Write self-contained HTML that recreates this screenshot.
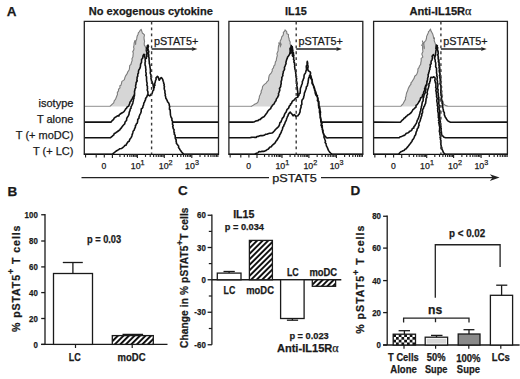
<!DOCTYPE html>
<html><head><meta charset="utf-8"><style>
html,body{margin:0;padding:0;background:#fff;}
svg{display:block;font-family:"Liberation Sans", sans-serif;}
text{stroke:#1a1a1a;stroke-width:0.25px;}
</style></head><body>
<svg width="520" height="379" viewBox="0 0 520 379">
<rect width="520" height="379" fill="#fff"/>
<defs><pattern id="hatch" patternUnits="userSpaceOnUse" width="3.9" height="3.9" patternTransform="rotate(45)"><rect width="3.9" height="3.9" fill="#fff"/><rect x="0" y="0" width="1.95" height="3.9" fill="#111"/></pattern><pattern id="checker" patternUnits="userSpaceOnUse" x="393.2" y="334.2" width="5.5" height="5.5"><rect width="5.5" height="5.5" fill="#fff"/><rect width="2.75" height="2.75" fill="#111"/><rect x="2.75" y="2.75" width="2.75" height="2.75" fill="#111"/></pattern></defs>
<text x="6.80" y="16.20" font-size="13.5" font-weight="bold" fill="#1a1a1a" >A</text>
<path d="M84.30,106.45 L110.00,106.45 L111.50,104.85 L113.70,102.85 L114.32,100.54 L115.50,99.35 L116.41,97.00 L116.89,95.80 L117.50,94.35 L117.29,92.61 L118.50,90.85 L118.51,89.24 L120.00,87.85 L119.81,85.70 L120.88,85.37 L121.50,83.35 L121.90,81.41 L123.50,80.35 L124.40,79.57 L125.02,77.18 L125.60,75.85 L127.31,73.37 L127.50,72.35 L129.07,70.01 L129.50,68.35 L129.68,65.74 L131.00,64.35 L131.29,62.86 L132.20,60.35 L131.96,58.81 L132.96,56.81 L133.00,55.35 L133.28,52.98 L132.70,51.55 L133.60,50.35 L134.02,48.57 L133.57,47.15 L134.00,45.35 L134.08,43.53 L134.30,42.35 L135.00,40.55 L135.77,42.77 L135.60,44.35 L135.49,42.47 L136.20,40.35 L136.69,38.95 L137.10,36.35 L138.12,34.16 L138.40,32.65 L139.30,31.85 L140.25,30.15 L141.20,29.35 L142.00,31.85 L142.50,33.35 L143.40,33.85 L144.47,34.99 L144.00,37.35 L144.17,39.76 L144.60,41.35 L144.24,43.00 L144.26,44.95 L145.20,46.35 L145.82,48.47 L145.60,50.35 L146.55,52.05 L146.30,54.35 L146.79,56.00 L146.78,57.28 L147.37,59.56 L147.00,60.35 L147.13,62.28 L146.63,64.01 L147.74,66.14 L148.18,66.67 L147.65,68.95 L148.00,70.35 L147.44,71.79 L147.87,72.74 L147.89,75.28 L148.21,75.95 L148.83,78.44 L148.53,79.27 L149.48,81.46 L150.11,82.93 L149.45,83.71 L150.00,85.35 L150.27,87.63 L151.73,88.12 L150.98,89.92 L151.57,91.99 L152.64,93.30 L153.00,95.35 L153.04,96.55 L154.46,98.12 L156.22,99.65 L156.36,100.87 L157.45,101.30 L158.00,103.35 L160.31,104.83 L161.93,105.89 L163.00,106.45 L218.50,106.45 Z" fill="#d6d6d6" stroke="none"/>
<path d="M84.30,106.45 L110.00,106.45 M163.00,106.45 L218.50,106.45" fill="none" stroke="#a6a6a6" stroke-width="1.3"/>
<path d="M110.00,106.45 L111.50,104.85 L113.70,102.85 L114.32,100.54 L115.50,99.35 L116.41,97.00 L116.89,95.80 L117.50,94.35 L117.29,92.61 L118.50,90.85 L118.51,89.24 L120.00,87.85 L119.81,85.70 L120.88,85.37 L121.50,83.35 L121.90,81.41 L123.50,80.35 L124.40,79.57 L125.02,77.18 L125.60,75.85 L127.31,73.37 L127.50,72.35 L129.07,70.01 L129.50,68.35 L129.68,65.74 L131.00,64.35 L131.29,62.86 L132.20,60.35 L131.96,58.81 L132.96,56.81 L133.00,55.35 L133.28,52.98 L132.70,51.55 L133.60,50.35 L134.02,48.57 L133.57,47.15 L134.00,45.35 L134.08,43.53 L134.30,42.35 L135.00,40.55 L135.77,42.77 L135.60,44.35 L135.49,42.47 L136.20,40.35 L136.69,38.95 L137.10,36.35 L138.12,34.16 L138.40,32.65 L139.30,31.85 L140.25,30.15 L141.20,29.35 L142.00,31.85 L142.50,33.35 L143.40,33.85 L144.47,34.99 L144.00,37.35 L144.17,39.76 L144.60,41.35 L144.24,43.00 L144.26,44.95 L145.20,46.35 L145.82,48.47 L145.60,50.35 L146.55,52.05 L146.30,54.35 L146.79,56.00 L146.78,57.28 L147.37,59.56 L147.00,60.35 L147.13,62.28 L146.63,64.01 L147.74,66.14 L148.18,66.67 L147.65,68.95 L148.00,70.35 L147.44,71.79 L147.87,72.74 L147.89,75.28 L148.21,75.95 L148.83,78.44 L148.53,79.27 L149.48,81.46 L150.11,82.93 L149.45,83.71 L150.00,85.35 L150.27,87.63 L151.73,88.12 L150.98,89.92 L151.57,91.99 L152.64,93.30 L153.00,95.35 L153.04,96.55 L154.46,98.12 L156.22,99.65 L156.36,100.87 L157.45,101.30 L158.00,103.35 L160.31,104.83 L161.93,105.89 L163.00,106.45" fill="none" stroke="#7c7c7c" stroke-width="1.1" stroke-linejoin="round"/>
<path d="M84.30,122.10 L111.10,122.10 L111.87,121.08 L112.48,120.35 L113.70,119.30 L114.17,118.04 L115.17,117.26 L116.30,116.70 L117.46,115.90 L118.90,115.90 L119.28,114.72 L120.21,114.04 L121.40,113.30 L122.27,112.79 L124.00,111.60 L124.97,110.15 L125.51,109.20 L126.60,108.20 L127.34,106.69 L128.65,106.31 L129.20,104.70 L129.74,103.55 L129.96,102.08 L130.90,101.30 L131.33,99.95 L132.33,98.73 L132.60,97.90 L133.02,97.01 L134.30,95.30 L134.78,93.82 L135.24,92.54 L135.68,92.23 L136.43,90.81 L136.34,89.35 L137.00,88.30 L137.03,87.43 L137.70,86.33 L137.85,84.72 L138.61,84.29 L138.98,83.02 L139.29,81.85 L139.09,80.54 L139.54,78.99 L140.00,78.30 L139.85,76.99 L140.34,76.25 L141.24,74.92 L141.50,74.29 L141.80,72.62 L141.42,71.39 L141.67,70.26 L142.33,69.77 L142.50,68.30 L143.06,67.11 L143.14,66.24 L142.88,64.94 L143.87,63.89 L143.98,62.45 L144.00,61.30 L144.16,60.46 L144.90,59.10 L146.40,58.30 L146.35,57.37 L147.02,55.81 L146.61,55.10 L147.00,53.20 L146.90,52.30 L146.61,50.74 L147.36,50.08 L146.73,48.84 L147.10,47.30 L147.40,45.50 L147.70,46.80 L148.00,45.10 L148.51,46.54 L148.02,47.74 L147.89,48.56 L148.30,50.30 L148.78,51.63 L148.44,53.09 L148.42,54.23 L148.83,54.84 L148.60,56.30 L149.10,58.30 L149.01,59.31 L149.13,60.78 L149.27,61.83 L149.29,63.47 L149.62,64.26 L149.96,65.86 L149.94,67.08 L150.14,67.93 L150.29,68.67 L150.40,70.30 L150.47,71.20 L150.20,72.94 L150.48,73.84 L151.10,75.10 L150.87,76.25 L151.20,77.68 L150.92,78.67 L151.40,79.80 L151.50,80.74 L152.30,82.09 L152.44,83.46 L153.09,84.32 L153.14,85.52 L153.38,86.83 L153.70,87.80 L154.18,88.87 L154.73,90.28 L155.45,91.26 L156.20,91.75 L156.38,93.41 L157.16,93.72 L157.03,95.04 L157.52,95.90 L158.04,97.33 L159.21,98.57 L159.16,99.45 L160.00,100.30 L160.64,100.98 L161.34,102.72 L161.25,103.71 L161.91,104.29 L162.94,105.60 L162.70,106.24 L163.51,107.16 L163.73,108.14 L164.70,108.87 L165.00,110.30 L165.76,111.25 L165.99,112.15 L167.25,113.31 L167.47,114.74 L168.83,115.72 L168.93,116.09 L170.00,117.30 L170.21,118.75 L171.04,119.37 L171.81,121.27 L172.50,122.10 L218.50,122.10 Z" fill="#fff" stroke="none"/>
<path d="M84.30,122.10 L111.10,122.10 L111.87,121.08 L112.48,120.35 L113.70,119.30 L114.17,118.04 L115.17,117.26 L116.30,116.70 L117.46,115.90 L118.90,115.90 L119.28,114.72 L120.21,114.04 L121.40,113.30 L122.27,112.79 L124.00,111.60 L124.97,110.15 L125.51,109.20 L126.60,108.20 L127.34,106.69 L128.65,106.31 L129.20,104.70 L129.74,103.55 L129.96,102.08 L130.90,101.30 L131.33,99.95 L132.33,98.73 L132.60,97.90 L133.02,97.01 L134.30,95.30 L134.78,93.82 L135.24,92.54 L135.68,92.23 L136.43,90.81 L136.34,89.35 L137.00,88.30 L137.03,87.43 L137.70,86.33 L137.85,84.72 L138.61,84.29 L138.98,83.02 L139.29,81.85 L139.09,80.54 L139.54,78.99 L140.00,78.30 L139.85,76.99 L140.34,76.25 L141.24,74.92 L141.50,74.29 L141.80,72.62 L141.42,71.39 L141.67,70.26 L142.33,69.77 L142.50,68.30 L143.06,67.11 L143.14,66.24 L142.88,64.94 L143.87,63.89 L143.98,62.45 L144.00,61.30 L144.16,60.46 L144.90,59.10 L146.40,58.30 L146.35,57.37 L147.02,55.81 L146.61,55.10 L147.00,53.20 L146.90,52.30 L146.61,50.74 L147.36,50.08 L146.73,48.84 L147.10,47.30 L147.40,45.50 L147.70,46.80 L148.00,45.10 L148.51,46.54 L148.02,47.74 L147.89,48.56 L148.30,50.30 L148.78,51.63 L148.44,53.09 L148.42,54.23 L148.83,54.84 L148.60,56.30 L149.10,58.30 L149.01,59.31 L149.13,60.78 L149.27,61.83 L149.29,63.47 L149.62,64.26 L149.96,65.86 L149.94,67.08 L150.14,67.93 L150.29,68.67 L150.40,70.30 L150.47,71.20 L150.20,72.94 L150.48,73.84 L151.10,75.10 L150.87,76.25 L151.20,77.68 L150.92,78.67 L151.40,79.80 L151.50,80.74 L152.30,82.09 L152.44,83.46 L153.09,84.32 L153.14,85.52 L153.38,86.83 L153.70,87.80 L154.18,88.87 L154.73,90.28 L155.45,91.26 L156.20,91.75 L156.38,93.41 L157.16,93.72 L157.03,95.04 L157.52,95.90 L158.04,97.33 L159.21,98.57 L159.16,99.45 L160.00,100.30 L160.64,100.98 L161.34,102.72 L161.25,103.71 L161.91,104.29 L162.94,105.60 L162.70,106.24 L163.51,107.16 L163.73,108.14 L164.70,108.87 L165.00,110.30 L165.76,111.25 L165.99,112.15 L167.25,113.31 L167.47,114.74 L168.83,115.72 L168.93,116.09 L170.00,117.30 L170.21,118.75 L171.04,119.37 L171.81,121.27 L172.50,122.10 L218.50,122.10" fill="none" stroke="#111" stroke-width="1.6" stroke-linejoin="round"/>
<path d="M84.30,137.80 L110.30,137.80 L111.45,136.85 L111.72,136.71 L112.90,135.60 L113.81,134.93 L114.23,133.50 L115.62,132.98 L116.30,132.20 L117.22,131.74 L118.90,130.50 L119.85,129.90 L120.19,129.09 L121.40,127.90 L121.88,127.09 L123.09,125.49 L124.00,124.50 L124.70,123.81 L125.09,122.02 L125.97,121.04 L126.60,120.20 L126.67,118.82 L127.05,117.78 L127.71,116.80 L128.30,115.90 L128.96,114.41 L129.15,113.01 L129.44,111.57 L130.00,110.70 L130.20,108.99 L131.06,108.20 L131.00,106.85 L131.70,105.60 L132.52,103.95 L132.84,102.94 L132.97,102.00 L133.40,100.40 L133.52,99.19 L134.01,98.39 L133.92,97.04 L134.47,95.64 L134.50,94.30 L134.59,93.02 L134.45,91.68 L134.65,91.08 L134.99,89.42 L135.01,88.88 L135.90,87.59 L135.55,86.06 L135.74,85.11 L136.10,84.00 L136.03,82.85 L136.37,82.22 L137.25,80.74 L136.83,80.02 L137.13,78.37 L137.09,77.29 L137.76,76.30 L137.75,75.20 L137.81,73.89 L138.50,73.00 L138.42,71.81 L138.66,70.37 L139.18,69.46 L139.72,68.63 L140.15,67.64 L140.41,66.74 L140.50,65.30 L140.68,63.89 L141.49,62.48 L141.53,61.68 L141.60,60.30 L141.54,59.50 L142.65,58.21 L142.86,57.28 L143.00,55.90 L143.80,54.30 L144.60,54.70 L144.40,55.84 L144.84,57.24 L145.23,58.35 L145.16,59.53 L145.20,60.30 L145.42,61.63 L145.08,62.20 L145.05,63.65 L145.08,65.24 L145.55,66.21 L145.67,67.42 L145.61,67.97 L145.95,69.80 L145.74,70.77 L145.80,71.90 L146.06,72.71 L146.24,74.08 L145.76,75.29 L146.46,76.43 L146.59,78.33 L146.48,78.99 L146.60,80.30 L146.71,81.72 L147.11,82.91 L147.13,83.67 L146.82,85.08 L147.49,86.37 L147.40,87.80 L147.56,88.55 L147.20,89.97 L147.85,91.54 L147.96,92.36 L147.91,93.71 L147.97,94.58 L148.45,95.84 L148.20,97.30 L148.95,98.78 L148.40,99.43 L149.44,100.97 L149.42,101.43 L149.52,103.12 L149.84,103.87 L150.09,104.90 L151.14,105.64 L151.34,107.06 L151.71,108.32 L151.44,109.57 L152.00,110.30 L152.42,110.94 L152.41,112.44 L153.24,113.34 L153.39,114.45 L153.98,115.96 L154.12,116.95 L155.31,117.46 L155.81,119.06 L156.22,119.75 L156.17,120.92 L157.16,122.17 L157.02,123.09 L157.37,123.82 L158.00,125.30 L158.42,126.49 L159.36,127.47 L160.11,127.76 L161.12,128.58 L161.77,130.15 L163.01,130.91 L163.56,131.89 L164.62,132.46 L165.00,133.30 L166.20,133.54 L167.21,134.54 L168.23,135.36 L168.81,135.47 L170.38,136.18 L170.97,137.02 L172.00,137.80 L218.50,137.80 Z" fill="#fff" stroke="none"/>
<path d="M84.30,137.80 L110.30,137.80 L111.45,136.85 L111.72,136.71 L112.90,135.60 L113.81,134.93 L114.23,133.50 L115.62,132.98 L116.30,132.20 L117.22,131.74 L118.90,130.50 L119.85,129.90 L120.19,129.09 L121.40,127.90 L121.88,127.09 L123.09,125.49 L124.00,124.50 L124.70,123.81 L125.09,122.02 L125.97,121.04 L126.60,120.20 L126.67,118.82 L127.05,117.78 L127.71,116.80 L128.30,115.90 L128.96,114.41 L129.15,113.01 L129.44,111.57 L130.00,110.70 L130.20,108.99 L131.06,108.20 L131.00,106.85 L131.70,105.60 L132.52,103.95 L132.84,102.94 L132.97,102.00 L133.40,100.40 L133.52,99.19 L134.01,98.39 L133.92,97.04 L134.47,95.64 L134.50,94.30 L134.59,93.02 L134.45,91.68 L134.65,91.08 L134.99,89.42 L135.01,88.88 L135.90,87.59 L135.55,86.06 L135.74,85.11 L136.10,84.00 L136.03,82.85 L136.37,82.22 L137.25,80.74 L136.83,80.02 L137.13,78.37 L137.09,77.29 L137.76,76.30 L137.75,75.20 L137.81,73.89 L138.50,73.00 L138.42,71.81 L138.66,70.37 L139.18,69.46 L139.72,68.63 L140.15,67.64 L140.41,66.74 L140.50,65.30 L140.68,63.89 L141.49,62.48 L141.53,61.68 L141.60,60.30 L141.54,59.50 L142.65,58.21 L142.86,57.28 L143.00,55.90 L143.80,54.30 L144.60,54.70 L144.40,55.84 L144.84,57.24 L145.23,58.35 L145.16,59.53 L145.20,60.30 L145.42,61.63 L145.08,62.20 L145.05,63.65 L145.08,65.24 L145.55,66.21 L145.67,67.42 L145.61,67.97 L145.95,69.80 L145.74,70.77 L145.80,71.90 L146.06,72.71 L146.24,74.08 L145.76,75.29 L146.46,76.43 L146.59,78.33 L146.48,78.99 L146.60,80.30 L146.71,81.72 L147.11,82.91 L147.13,83.67 L146.82,85.08 L147.49,86.37 L147.40,87.80 L147.56,88.55 L147.20,89.97 L147.85,91.54 L147.96,92.36 L147.91,93.71 L147.97,94.58 L148.45,95.84 L148.20,97.30 L148.95,98.78 L148.40,99.43 L149.44,100.97 L149.42,101.43 L149.52,103.12 L149.84,103.87 L150.09,104.90 L151.14,105.64 L151.34,107.06 L151.71,108.32 L151.44,109.57 L152.00,110.30 L152.42,110.94 L152.41,112.44 L153.24,113.34 L153.39,114.45 L153.98,115.96 L154.12,116.95 L155.31,117.46 L155.81,119.06 L156.22,119.75 L156.17,120.92 L157.16,122.17 L157.02,123.09 L157.37,123.82 L158.00,125.30 L158.42,126.49 L159.36,127.47 L160.11,127.76 L161.12,128.58 L161.77,130.15 L163.01,130.91 L163.56,131.89 L164.62,132.46 L165.00,133.30 L166.20,133.54 L167.21,134.54 L168.23,135.36 L168.81,135.47 L170.38,136.18 L170.97,137.02 L172.00,137.80 L218.50,137.80" fill="none" stroke="#111" stroke-width="1.6" stroke-linejoin="round"/>
<path d="M84.30,154.30 L112.00,154.30 L112.95,153.62 L114.70,152.28 L115.40,151.60 L116.71,150.72 L117.78,150.10 L118.90,149.50 L119.85,148.70 L121.40,148.50 L122.44,147.87 L124.00,146.50 L124.86,145.38 L126.10,145.21 L126.60,143.90 L127.42,142.71 L128.06,141.80 L129.20,141.30 L129.62,139.80 L130.10,138.82 L130.90,137.90 L131.39,137.17 L131.97,135.67 L132.10,134.70 L132.60,133.60 L132.91,132.38 L133.06,131.25 L134.30,130.04 L134.30,129.30 L134.73,128.34 L135.48,126.89 L135.37,125.85 L136.00,125.00 L136.33,123.88 L137.26,123.16 L137.61,121.34 L137.70,120.70 L137.73,119.61 L138.96,118.13 L139.13,116.43 L139.50,115.60 L139.83,114.68 L140.64,113.32 L141.20,111.47 L141.20,110.40 L141.27,109.01 L142.07,108.41 L142.87,107.37 L142.90,106.10 L143.46,105.29 L143.71,104.05 L143.76,103.20 L144.60,101.90 L144.78,101.20 L145.58,99.57 L145.54,98.45 L146.30,97.60 L146.97,96.48 L147.40,95.00 L148.20,95.06 L149.70,95.90 L150.52,95.17 L151.20,94.05 L152.10,93.50 L152.59,91.86 L152.72,91.06 L153.71,90.03 L153.70,88.70 L154.31,87.49 L153.99,86.11 L154.91,85.33 L154.59,83.54 L155.03,82.94 L155.30,81.60 L155.55,80.28 L156.10,79.78 L156.03,77.88 L156.60,77.20 L157.40,76.40 L158.40,77.40 L158.65,78.73 L159.20,80.20 L160.00,79.00 L161.20,77.60 L161.90,78.20 L162.71,79.43 L163.20,81.20 L163.67,82.52 L163.60,83.13 L164.22,84.33 L164.00,85.60 L164.49,86.53 L164.15,88.18 L164.42,89.53 L164.80,90.30 L164.96,91.28 L164.87,92.75 L165.43,94.48 L165.12,95.24 L165.60,96.60 L165.87,98.36 L166.34,98.86 L167.20,100.60 L167.55,101.70 L168.70,103.00 L169.26,104.52 L169.31,105.80 L169.69,106.37 L169.50,107.70 L169.42,109.29 L170.12,109.68 L170.25,111.19 L170.30,112.50 L170.39,113.52 L170.40,114.40 L170.70,115.89 L171.10,117.20 L171.91,118.46 L171.90,120.40 L172.62,121.54 L172.50,123.20 L172.57,124.62 L173.19,125.40 L172.69,126.56 L173.19,128.09 L173.22,128.72 L174.06,129.55 L173.90,131.10 L174.04,132.48 L174.57,132.89 L174.13,134.01 L175.14,135.28 L175.21,136.96 L175.20,137.70 L175.39,138.60 L176.28,140.01 L175.99,141.19 L176.37,141.90 L176.42,143.43 L177.20,144.30 L178.09,145.48 L178.64,145.99 L178.52,147.46 L179.69,148.95 L179.80,149.60 L180.56,150.48 L181.47,151.79 L182.40,152.90 L183.70,154.30 L218.50,154.30 Z" fill="#fff" stroke="none"/>
<path d="M84.30,154.30 L112.00,154.30 L112.95,153.62 L114.70,152.28 L115.40,151.60 L116.71,150.72 L117.78,150.10 L118.90,149.50 L119.85,148.70 L121.40,148.50 L122.44,147.87 L124.00,146.50 L124.86,145.38 L126.10,145.21 L126.60,143.90 L127.42,142.71 L128.06,141.80 L129.20,141.30 L129.62,139.80 L130.10,138.82 L130.90,137.90 L131.39,137.17 L131.97,135.67 L132.10,134.70 L132.60,133.60 L132.91,132.38 L133.06,131.25 L134.30,130.04 L134.30,129.30 L134.73,128.34 L135.48,126.89 L135.37,125.85 L136.00,125.00 L136.33,123.88 L137.26,123.16 L137.61,121.34 L137.70,120.70 L137.73,119.61 L138.96,118.13 L139.13,116.43 L139.50,115.60 L139.83,114.68 L140.64,113.32 L141.20,111.47 L141.20,110.40 L141.27,109.01 L142.07,108.41 L142.87,107.37 L142.90,106.10 L143.46,105.29 L143.71,104.05 L143.76,103.20 L144.60,101.90 L144.78,101.20 L145.58,99.57 L145.54,98.45 L146.30,97.60 L146.97,96.48 L147.40,95.00 L148.20,95.06 L149.70,95.90 L150.52,95.17 L151.20,94.05 L152.10,93.50 L152.59,91.86 L152.72,91.06 L153.71,90.03 L153.70,88.70 L154.31,87.49 L153.99,86.11 L154.91,85.33 L154.59,83.54 L155.03,82.94 L155.30,81.60 L155.55,80.28 L156.10,79.78 L156.03,77.88 L156.60,77.20 L157.40,76.40 L158.40,77.40 L158.65,78.73 L159.20,80.20 L160.00,79.00 L161.20,77.60 L161.90,78.20 L162.71,79.43 L163.20,81.20 L163.67,82.52 L163.60,83.13 L164.22,84.33 L164.00,85.60 L164.49,86.53 L164.15,88.18 L164.42,89.53 L164.80,90.30 L164.96,91.28 L164.87,92.75 L165.43,94.48 L165.12,95.24 L165.60,96.60 L165.87,98.36 L166.34,98.86 L167.20,100.60 L167.55,101.70 L168.70,103.00 L169.26,104.52 L169.31,105.80 L169.69,106.37 L169.50,107.70 L169.42,109.29 L170.12,109.68 L170.25,111.19 L170.30,112.50 L170.39,113.52 L170.40,114.40 L170.70,115.89 L171.10,117.20 L171.91,118.46 L171.90,120.40 L172.62,121.54 L172.50,123.20 L172.57,124.62 L173.19,125.40 L172.69,126.56 L173.19,128.09 L173.22,128.72 L174.06,129.55 L173.90,131.10 L174.04,132.48 L174.57,132.89 L174.13,134.01 L175.14,135.28 L175.21,136.96 L175.20,137.70 L175.39,138.60 L176.28,140.01 L175.99,141.19 L176.37,141.90 L176.42,143.43 L177.20,144.30 L178.09,145.48 L178.64,145.99 L178.52,147.46 L179.69,148.95 L179.80,149.60 L180.56,150.48 L181.47,151.79 L182.40,152.90 L183.70,154.30 L218.50,154.30" fill="none" stroke="#111" stroke-width="1.6" stroke-linejoin="round"/>
<path d="M84.30,154.30 L84.30,21.40 L218.50,21.40 L218.50,154.30" fill="none" stroke="#222" stroke-width="1.3"/>
<line x1="83.70" y1="154.30" x2="219.10" y2="154.30" stroke="#111" stroke-width="1.3" />
<line x1="151.60" y1="21.60" x2="151.60" y2="154.30" stroke="#3a3a3a" stroke-width="1.4" stroke-dasharray="2.8 3.15"/>
<text x="153.90" y="45.20" font-size="10.8" textLength="44.40" lengthAdjust="spacingAndGlyphs" fill="#1a1a1a" >pSTAT5+</text>
<line x1="151.60" y1="49.00" x2="193.60" y2="49.00" stroke="#222" stroke-width="1.3" />
<path d="M197.40,49 L191.60,46.9 L192.80,49 L191.60,51.1 Z" fill="#222"/>
<line x1="85.55" y1="154.30" x2="85.55" y2="157.50" stroke="#222" stroke-width="1.15" />
<line x1="96.20" y1="154.30" x2="96.20" y2="157.50" stroke="#222" stroke-width="1.15" />
<line x1="104.30" y1="154.30" x2="104.30" y2="157.50" stroke="#222" stroke-width="1.15" />
<line x1="112.40" y1="154.30" x2="112.40" y2="157.90" stroke="#222" stroke-width="1.15" />
<line x1="119.93" y1="154.30" x2="119.93" y2="156.90" stroke="#222" stroke-width="1.15" />
<line x1="124.33" y1="154.30" x2="124.33" y2="156.90" stroke="#222" stroke-width="1.15" />
<line x1="127.45" y1="154.30" x2="127.45" y2="156.90" stroke="#222" stroke-width="1.15" />
<line x1="129.87" y1="154.30" x2="129.87" y2="156.90" stroke="#222" stroke-width="1.15" />
<line x1="131.85" y1="154.30" x2="131.85" y2="156.90" stroke="#222" stroke-width="1.15" />
<line x1="133.53" y1="154.30" x2="133.53" y2="156.90" stroke="#222" stroke-width="1.15" />
<line x1="134.98" y1="154.30" x2="134.98" y2="156.90" stroke="#222" stroke-width="1.15" />
<line x1="136.26" y1="154.30" x2="136.26" y2="156.90" stroke="#222" stroke-width="1.15" />
<line x1="137.40" y1="154.30" x2="137.40" y2="157.90" stroke="#222" stroke-width="1.15" />
<line x1="145.50" y1="154.30" x2="145.50" y2="156.90" stroke="#222" stroke-width="1.15" />
<line x1="150.23" y1="154.30" x2="150.23" y2="156.90" stroke="#222" stroke-width="1.15" />
<line x1="153.60" y1="154.30" x2="153.60" y2="156.90" stroke="#222" stroke-width="1.15" />
<line x1="156.20" y1="154.30" x2="156.20" y2="156.90" stroke="#222" stroke-width="1.15" />
<line x1="158.33" y1="154.30" x2="158.33" y2="156.90" stroke="#222" stroke-width="1.15" />
<line x1="160.13" y1="154.30" x2="160.13" y2="156.90" stroke="#222" stroke-width="1.15" />
<line x1="161.69" y1="154.30" x2="161.69" y2="156.90" stroke="#222" stroke-width="1.15" />
<line x1="163.07" y1="154.30" x2="163.07" y2="156.90" stroke="#222" stroke-width="1.15" />
<line x1="164.30" y1="154.30" x2="164.30" y2="157.90" stroke="#222" stroke-width="1.15" />
<line x1="172.58" y1="154.30" x2="172.58" y2="156.90" stroke="#222" stroke-width="1.15" />
<line x1="177.42" y1="154.30" x2="177.42" y2="156.90" stroke="#222" stroke-width="1.15" />
<line x1="180.86" y1="154.30" x2="180.86" y2="156.90" stroke="#222" stroke-width="1.15" />
<line x1="183.52" y1="154.30" x2="183.52" y2="156.90" stroke="#222" stroke-width="1.15" />
<line x1="185.70" y1="154.30" x2="185.70" y2="156.90" stroke="#222" stroke-width="1.15" />
<line x1="187.54" y1="154.30" x2="187.54" y2="156.90" stroke="#222" stroke-width="1.15" />
<line x1="189.13" y1="154.30" x2="189.13" y2="156.90" stroke="#222" stroke-width="1.15" />
<line x1="190.54" y1="154.30" x2="190.54" y2="156.90" stroke="#222" stroke-width="1.15" />
<line x1="191.80" y1="154.30" x2="191.80" y2="157.90" stroke="#222" stroke-width="1.15" />
<line x1="200.02" y1="154.30" x2="200.02" y2="156.90" stroke="#222" stroke-width="1.15" />
<line x1="204.83" y1="154.30" x2="204.83" y2="156.90" stroke="#222" stroke-width="1.15" />
<line x1="208.24" y1="154.30" x2="208.24" y2="156.90" stroke="#222" stroke-width="1.15" />
<line x1="210.88" y1="154.30" x2="210.88" y2="156.90" stroke="#222" stroke-width="1.15" />
<line x1="213.04" y1="154.30" x2="213.04" y2="156.90" stroke="#222" stroke-width="1.15" />
<line x1="214.87" y1="154.30" x2="214.87" y2="156.90" stroke="#222" stroke-width="1.15" />
<line x1="216.45" y1="154.30" x2="216.45" y2="156.90" stroke="#222" stroke-width="1.15" />
<line x1="217.85" y1="154.30" x2="217.85" y2="156.90" stroke="#222" stroke-width="1.15" />
<text x="104.00" y="169.20" font-size="8.6" text-anchor="middle" fill="#1a1a1a" >0</text>
<text x="130.80" y="169.3" font-size="8.8" fill="#1a1a1a">10<tspan dy="-3.9" font-size="7.2">1</tspan></text>
<text x="158.80" y="169.3" font-size="8.8" fill="#1a1a1a">10<tspan dy="-3.9" font-size="7.2">2</tspan></text>
<text x="185.10" y="169.3" font-size="8.8" fill="#1a1a1a">10<tspan dy="-3.9" font-size="7.2">3</tspan></text>
<text x="150.80" y="15.40" font-size="11" font-weight="bold" text-anchor="middle" textLength="124.00" lengthAdjust="spacingAndGlyphs" fill="#1a1a1a" >No exogenous cytokine</text>
<path d="M228.90,106.45 L251.00,106.55 L253.00,105.35 L255.03,104.09 L255.70,103.85 L257.12,103.00 L258.08,101.82 L258.50,100.15 L259.27,98.01 L259.41,96.20 L260.30,94.55 L261.38,92.04 L261.08,91.29 L262.20,89.05 L262.53,86.79 L262.92,86.00 L264.40,84.35 L266.10,83.15 L266.69,82.19 L268.45,80.46 L268.70,77.95 L269.19,75.58 L269.79,74.55 L271.30,72.85 L272.29,71.04 L272.17,69.27 L273.44,67.95 L273.90,65.95 L274.92,64.78 L275.41,61.89 L276.32,60.45 L276.40,59.05 L276.81,57.28 L277.38,55.44 L276.90,53.94 L277.05,53.40 L278.03,50.94 L278.20,49.65 L278.18,48.71 L278.51,45.77 L279.14,44.72 L278.80,42.75 L280.34,44.16 L280.30,46.85 L280.44,45.86 L281.20,44.51 L280.10,42.02 L280.41,40.35 L281.20,39.35 L281.80,36.75 L283.06,35.45 L283.49,33.68 L283.30,32.45 L284.74,31.02 L285.00,29.75 L286.70,31.65 L286.88,33.79 L288.55,34.42 L288.40,36.75 L289.15,38.68 L289.15,40.01 L290.20,41.95 L290.03,43.63 L291.00,46.25 L290.83,47.98 L291.69,48.91 L290.88,50.67 L292.17,52.01 L291.81,53.61 L292.81,55.73 L291.86,56.58 L292.61,58.86 L293.00,60.35 L293.41,61.26 L292.84,63.79 L293.42,64.69 L293.44,67.33 L293.64,68.27 L293.90,69.59 L294.90,72.08 L294.28,72.37 L295.05,73.94 L294.08,76.62 L294.94,78.05 L295.10,79.71 L295.37,80.12 L294.85,82.31 L296.04,84.44 L296.00,85.35 L295.74,87.05 L296.59,88.36 L296.63,89.50 L297.63,92.03 L297.37,92.83 L298.89,95.10 L298.32,95.25 L299.91,98.11 L299.57,98.14 L300.00,100.35 L301.68,101.41 L302.65,103.02 L303.52,103.53 L304.46,104.87 L305.00,106.55 L362.80,106.45 Z" fill="#d6d6d6" stroke="none"/>
<path d="M228.90,106.45 L251.00,106.45 M305.00,106.45 L362.80,106.45" fill="none" stroke="#a6a6a6" stroke-width="1.3"/>
<path d="M251.00,106.55 L253.00,105.35 L255.03,104.09 L255.70,103.85 L257.12,103.00 L258.08,101.82 L258.50,100.15 L259.27,98.01 L259.41,96.20 L260.30,94.55 L261.38,92.04 L261.08,91.29 L262.20,89.05 L262.53,86.79 L262.92,86.00 L264.40,84.35 L266.10,83.15 L266.69,82.19 L268.45,80.46 L268.70,77.95 L269.19,75.58 L269.79,74.55 L271.30,72.85 L272.29,71.04 L272.17,69.27 L273.44,67.95 L273.90,65.95 L274.92,64.78 L275.41,61.89 L276.32,60.45 L276.40,59.05 L276.81,57.28 L277.38,55.44 L276.90,53.94 L277.05,53.40 L278.03,50.94 L278.20,49.65 L278.18,48.71 L278.51,45.77 L279.14,44.72 L278.80,42.75 L280.34,44.16 L280.30,46.85 L280.44,45.86 L281.20,44.51 L280.10,42.02 L280.41,40.35 L281.20,39.35 L281.80,36.75 L283.06,35.45 L283.49,33.68 L283.30,32.45 L284.74,31.02 L285.00,29.75 L286.70,31.65 L286.88,33.79 L288.55,34.42 L288.40,36.75 L289.15,38.68 L289.15,40.01 L290.20,41.95 L290.03,43.63 L291.00,46.25 L290.83,47.98 L291.69,48.91 L290.88,50.67 L292.17,52.01 L291.81,53.61 L292.81,55.73 L291.86,56.58 L292.61,58.86 L293.00,60.35 L293.41,61.26 L292.84,63.79 L293.42,64.69 L293.44,67.33 L293.64,68.27 L293.90,69.59 L294.90,72.08 L294.28,72.37 L295.05,73.94 L294.08,76.62 L294.94,78.05 L295.10,79.71 L295.37,80.12 L294.85,82.31 L296.04,84.44 L296.00,85.35 L295.74,87.05 L296.59,88.36 L296.63,89.50 L297.63,92.03 L297.37,92.83 L298.89,95.10 L298.32,95.25 L299.91,98.11 L299.57,98.14 L300.00,100.35 L301.68,101.41 L302.65,103.02 L303.52,103.53 L304.46,104.87 L305.00,106.55" fill="none" stroke="#7c7c7c" stroke-width="1.1" stroke-linejoin="round"/>
<path d="M228.90,122.10 L252.90,122.10 L253.93,122.07 L255.44,121.13 L256.01,120.99 L257.40,120.64 L258.50,120.40 L259.08,119.56 L260.54,119.52 L260.84,118.61 L262.40,117.52 L263.39,116.97 L264.00,116.70 L264.79,115.82 L265.51,114.68 L266.03,114.00 L266.73,113.14 L267.45,112.02 L267.77,111.26 L268.89,109.99 L269.60,109.30 L270.60,108.64 L271.10,107.18 L271.88,106.20 L272.33,105.57 L273.07,104.66 L274.20,103.80 L274.74,102.33 L275.38,101.31 L276.00,100.88 L276.32,99.17 L276.85,98.40 L277.78,97.13 L277.90,96.40 L278.50,95.74 L278.67,94.46 L278.46,93.50 L279.01,92.37 L279.67,90.55 L279.84,90.13 L279.47,88.50 L280.37,87.21 L280.78,86.21 L280.70,85.30 L281.21,83.73 L281.15,83.18 L281.11,81.34 L281.60,80.30 L281.89,78.89 L281.75,77.51 L282.15,76.94 L282.90,75.66 L282.72,74.31 L283.30,72.80 L283.24,71.68 L284.00,70.38 L284.50,69.42 L284.53,68.57 L284.39,67.52 L285.15,65.84 L285.59,64.58 L286.05,63.71 L285.90,62.50 L286.17,61.44 L286.65,59.61 L287.32,58.19 L287.50,57.30 L288.69,55.78 L289.30,54.70 L289.78,53.94 L290.00,52.30 L290.20,51.32 L290.08,49.60 L289.96,48.61 L290.50,47.80 L290.68,48.84 L290.67,50.36 L290.41,50.85 L290.96,51.77 L290.90,53.30 L290.52,52.06 L290.69,50.94 L290.87,50.03 L291.27,48.58 L291.37,47.71 L291.00,47.01 L291.40,45.50 L291.29,46.38 L291.29,48.02 L292.11,49.35 L291.90,50.30 L291.95,48.92 L291.73,48.10 L292.30,46.80 L292.42,47.85 L292.56,49.12 L292.88,50.57 L292.32,51.91 L292.20,52.77 L292.59,53.69 L292.34,55.36 L292.80,56.30 L292.53,55.01 L293.53,53.31 L293.30,52.30 L293.13,53.50 L293.51,54.63 L293.88,55.31 L293.53,56.52 L293.80,57.80 L293.53,59.43 L294.33,60.55 L293.78,61.95 L294.58,62.89 L294.50,64.20 L294.87,65.34 L294.55,66.21 L294.71,67.33 L294.95,69.16 L295.43,70.43 L295.40,71.30 L295.72,72.19 L295.72,73.44 L296.06,74.62 L295.72,75.83 L296.49,76.55 L296.20,77.90 L296.66,78.66 L296.21,80.06 L296.76,81.90 L296.88,82.54 L297.11,83.75 L296.65,85.47 L297.00,86.30 L297.25,87.60 L297.42,88.98 L297.37,89.97 L297.71,91.11 L297.61,92.11 L297.86,92.86 L297.67,94.27 L297.69,95.65 L298.20,96.40 L298.11,97.09 L298.30,99.01 L298.74,99.42 L298.68,100.44 L299.50,102.08 L299.73,103.29 L299.38,104.27 L300.00,105.30 L300.50,106.59 L301.54,107.65 L301.48,108.63 L302.87,109.70 L302.77,110.04 L303.40,110.88 L304.69,112.58 L305.00,113.30 L306.00,114.34 L306.87,114.61 L307.26,115.19 L308.73,116.03 L309.21,116.98 L309.82,117.58 L310.93,118.74 L312.00,119.30 L312.98,119.49 L314.62,120.00 L315.62,120.46 L315.98,120.62 L317.44,121.30 L318.46,121.58 L319.73,121.49 L320.80,122.10 L362.80,122.10 Z" fill="#fff" stroke="none"/>
<path d="M228.90,122.10 L252.90,122.10 L253.93,122.07 L255.44,121.13 L256.01,120.99 L257.40,120.64 L258.50,120.40 L259.08,119.56 L260.54,119.52 L260.84,118.61 L262.40,117.52 L263.39,116.97 L264.00,116.70 L264.79,115.82 L265.51,114.68 L266.03,114.00 L266.73,113.14 L267.45,112.02 L267.77,111.26 L268.89,109.99 L269.60,109.30 L270.60,108.64 L271.10,107.18 L271.88,106.20 L272.33,105.57 L273.07,104.66 L274.20,103.80 L274.74,102.33 L275.38,101.31 L276.00,100.88 L276.32,99.17 L276.85,98.40 L277.78,97.13 L277.90,96.40 L278.50,95.74 L278.67,94.46 L278.46,93.50 L279.01,92.37 L279.67,90.55 L279.84,90.13 L279.47,88.50 L280.37,87.21 L280.78,86.21 L280.70,85.30 L281.21,83.73 L281.15,83.18 L281.11,81.34 L281.60,80.30 L281.89,78.89 L281.75,77.51 L282.15,76.94 L282.90,75.66 L282.72,74.31 L283.30,72.80 L283.24,71.68 L284.00,70.38 L284.50,69.42 L284.53,68.57 L284.39,67.52 L285.15,65.84 L285.59,64.58 L286.05,63.71 L285.90,62.50 L286.17,61.44 L286.65,59.61 L287.32,58.19 L287.50,57.30 L288.69,55.78 L289.30,54.70 L289.78,53.94 L290.00,52.30 L290.20,51.32 L290.08,49.60 L289.96,48.61 L290.50,47.80 L290.68,48.84 L290.67,50.36 L290.41,50.85 L290.96,51.77 L290.90,53.30 L290.52,52.06 L290.69,50.94 L290.87,50.03 L291.27,48.58 L291.37,47.71 L291.00,47.01 L291.40,45.50 L291.29,46.38 L291.29,48.02 L292.11,49.35 L291.90,50.30 L291.95,48.92 L291.73,48.10 L292.30,46.80 L292.42,47.85 L292.56,49.12 L292.88,50.57 L292.32,51.91 L292.20,52.77 L292.59,53.69 L292.34,55.36 L292.80,56.30 L292.53,55.01 L293.53,53.31 L293.30,52.30 L293.13,53.50 L293.51,54.63 L293.88,55.31 L293.53,56.52 L293.80,57.80 L293.53,59.43 L294.33,60.55 L293.78,61.95 L294.58,62.89 L294.50,64.20 L294.87,65.34 L294.55,66.21 L294.71,67.33 L294.95,69.16 L295.43,70.43 L295.40,71.30 L295.72,72.19 L295.72,73.44 L296.06,74.62 L295.72,75.83 L296.49,76.55 L296.20,77.90 L296.66,78.66 L296.21,80.06 L296.76,81.90 L296.88,82.54 L297.11,83.75 L296.65,85.47 L297.00,86.30 L297.25,87.60 L297.42,88.98 L297.37,89.97 L297.71,91.11 L297.61,92.11 L297.86,92.86 L297.67,94.27 L297.69,95.65 L298.20,96.40 L298.11,97.09 L298.30,99.01 L298.74,99.42 L298.68,100.44 L299.50,102.08 L299.73,103.29 L299.38,104.27 L300.00,105.30 L300.50,106.59 L301.54,107.65 L301.48,108.63 L302.87,109.70 L302.77,110.04 L303.40,110.88 L304.69,112.58 L305.00,113.30 L306.00,114.34 L306.87,114.61 L307.26,115.19 L308.73,116.03 L309.21,116.98 L309.82,117.58 L310.93,118.74 L312.00,119.30 L312.98,119.49 L314.62,120.00 L315.62,120.46 L315.98,120.62 L317.44,121.30 L318.46,121.58 L319.73,121.49 L320.80,122.10 L362.80,122.10" fill="none" stroke="#111" stroke-width="1.6" stroke-linejoin="round"/>
<path d="M228.90,137.80 L250.00,137.80 L251.55,137.33 L252.74,137.30 L253.23,137.23 L254.90,137.40 L256.36,137.41 L256.90,136.54 L258.57,136.39 L259.80,135.70 L260.74,135.50 L262.11,135.60 L263.26,135.50 L264.70,134.90 L265.73,134.24 L267.33,134.10 L268.02,133.82 L269.60,133.30 L270.32,133.29 L271.98,133.02 L272.90,132.50 L273.82,131.52 L274.50,130.80 L275.26,129.71 L276.20,128.80 L277.75,127.38 L278.60,126.70 L279.45,124.97 L279.60,124.10 L279.91,122.74 L281.11,121.80 L281.22,121.00 L281.90,119.50 L282.24,118.44 L283.08,117.68 L283.85,116.56 L284.20,115.40 L284.66,114.04 L285.09,113.31 L286.15,112.02 L286.60,110.60 L287.10,109.38 L288.45,108.34 L289.00,107.10 L289.24,106.11 L290.51,104.94 L290.46,104.04 L291.50,103.57 L291.90,102.30 L292.39,101.19 L293.27,100.54 L294.30,99.90 L295.12,98.83 L295.75,98.09 L296.70,97.60 L297.89,96.97 L297.87,96.35 L299.00,95.10 L298.97,93.92 L300.09,93.22 L300.18,91.82 L300.30,90.80 L300.27,89.82 L300.43,88.34 L300.92,87.08 L301.17,86.66 L301.50,85.30 L302.05,84.05 L302.37,82.77 L302.30,81.64 L303.00,80.30 L303.21,79.32 L303.97,77.84 L303.97,76.92 L304.13,75.26 L304.50,74.30 L305.20,73.51 L305.75,72.21 L306.00,70.90 L306.48,69.86 L306.45,68.46 L306.32,67.42 L306.29,66.03 L307.07,65.09 L307.09,63.48 L307.07,62.46 L307.30,61.30 L307.55,62.42 L307.73,64.09 L307.43,65.04 L308.10,66.00 L307.98,67.73 L307.71,68.54 L307.96,69.95 L308.40,70.90 L310.00,71.70 L310.66,73.02 L310.17,74.37 L310.80,75.60 L311.16,77.06 L311.45,78.25 L312.06,79.40 L312.00,81.04 L312.40,81.90 L312.54,83.27 L313.10,84.54 L313.26,85.94 L314.00,86.70 L314.27,87.48 L314.60,88.96 L314.76,90.15 L315.60,91.40 L315.90,92.65 L316.20,93.32 L316.45,94.82 L317.46,95.69 L317.18,97.00 L317.80,97.80 L317.95,98.72 L317.97,100.40 L318.83,101.45 L318.80,102.50 L318.93,103.67 L318.87,105.15 L319.14,105.97 L319.72,107.24 L319.56,107.89 L319.79,108.85 L319.90,110.30 L320.34,111.35 L320.50,112.45 L320.22,113.61 L320.41,114.73 L320.17,116.39 L320.57,117.14 L320.73,118.53 L320.99,119.85 L321.20,120.90 L321.52,121.86 L321.94,123.39 L321.33,124.46 L322.27,125.51 L321.75,126.64 L322.37,126.99 L321.99,128.92 L322.60,129.60 L323.02,130.48 L322.80,131.48 L323.20,133.15 L323.58,133.69 L324.00,135.10 L325.46,136.56 L326.20,137.50 L327.30,138.00 L329.00,137.80 L362.80,137.80 Z" fill="#fff" stroke="none"/>
<path d="M228.90,137.80 L250.00,137.80 L251.55,137.33 L252.74,137.30 L253.23,137.23 L254.90,137.40 L256.36,137.41 L256.90,136.54 L258.57,136.39 L259.80,135.70 L260.74,135.50 L262.11,135.60 L263.26,135.50 L264.70,134.90 L265.73,134.24 L267.33,134.10 L268.02,133.82 L269.60,133.30 L270.32,133.29 L271.98,133.02 L272.90,132.50 L273.82,131.52 L274.50,130.80 L275.26,129.71 L276.20,128.80 L277.75,127.38 L278.60,126.70 L279.45,124.97 L279.60,124.10 L279.91,122.74 L281.11,121.80 L281.22,121.00 L281.90,119.50 L282.24,118.44 L283.08,117.68 L283.85,116.56 L284.20,115.40 L284.66,114.04 L285.09,113.31 L286.15,112.02 L286.60,110.60 L287.10,109.38 L288.45,108.34 L289.00,107.10 L289.24,106.11 L290.51,104.94 L290.46,104.04 L291.50,103.57 L291.90,102.30 L292.39,101.19 L293.27,100.54 L294.30,99.90 L295.12,98.83 L295.75,98.09 L296.70,97.60 L297.89,96.97 L297.87,96.35 L299.00,95.10 L298.97,93.92 L300.09,93.22 L300.18,91.82 L300.30,90.80 L300.27,89.82 L300.43,88.34 L300.92,87.08 L301.17,86.66 L301.50,85.30 L302.05,84.05 L302.37,82.77 L302.30,81.64 L303.00,80.30 L303.21,79.32 L303.97,77.84 L303.97,76.92 L304.13,75.26 L304.50,74.30 L305.20,73.51 L305.75,72.21 L306.00,70.90 L306.48,69.86 L306.45,68.46 L306.32,67.42 L306.29,66.03 L307.07,65.09 L307.09,63.48 L307.07,62.46 L307.30,61.30 L307.55,62.42 L307.73,64.09 L307.43,65.04 L308.10,66.00 L307.98,67.73 L307.71,68.54 L307.96,69.95 L308.40,70.90 L310.00,71.70 L310.66,73.02 L310.17,74.37 L310.80,75.60 L311.16,77.06 L311.45,78.25 L312.06,79.40 L312.00,81.04 L312.40,81.90 L312.54,83.27 L313.10,84.54 L313.26,85.94 L314.00,86.70 L314.27,87.48 L314.60,88.96 L314.76,90.15 L315.60,91.40 L315.90,92.65 L316.20,93.32 L316.45,94.82 L317.46,95.69 L317.18,97.00 L317.80,97.80 L317.95,98.72 L317.97,100.40 L318.83,101.45 L318.80,102.50 L318.93,103.67 L318.87,105.15 L319.14,105.97 L319.72,107.24 L319.56,107.89 L319.79,108.85 L319.90,110.30 L320.34,111.35 L320.50,112.45 L320.22,113.61 L320.41,114.73 L320.17,116.39 L320.57,117.14 L320.73,118.53 L320.99,119.85 L321.20,120.90 L321.52,121.86 L321.94,123.39 L321.33,124.46 L322.27,125.51 L321.75,126.64 L322.37,126.99 L321.99,128.92 L322.60,129.60 L323.02,130.48 L322.80,131.48 L323.20,133.15 L323.58,133.69 L324.00,135.10 L325.46,136.56 L326.20,137.50 L327.30,138.00 L329.00,137.80 L362.80,137.80" fill="none" stroke="#111" stroke-width="1.6" stroke-linejoin="round"/>
<path d="M228.90,154.30 L254.60,154.30 L256.00,153.50 L257.10,153.12 L258.15,152.59 L259.00,151.60 L260.76,151.75 L262.00,151.30 L263.08,151.37 L264.70,151.10 L265.98,150.52 L267.20,149.50 L268.17,149.14 L269.30,147.89 L270.04,147.08 L271.30,146.70 L272.09,145.48 L272.87,144.73 L273.69,144.22 L274.50,143.40 L275.37,142.63 L275.72,141.51 L277.00,140.10 L277.77,138.76 L278.60,137.30 L279.32,136.51 L279.62,135.03 L280.30,134.00 L281.31,132.17 L281.50,131.10 L282.22,129.82 L282.70,128.30 L282.68,127.30 L283.66,126.49 L283.90,125.00 L284.30,124.60 L284.61,123.85 L285.23,122.23 L286.04,120.64 L286.34,119.99 L286.60,118.70 L286.93,117.97 L287.44,116.56 L288.06,115.76 L288.26,114.40 L289.00,113.40 L290.20,112.10 L290.98,113.10 L291.90,114.00 L293.10,115.80 L294.30,114.50 L295.19,115.26 L295.50,116.40 L296.99,116.01 L297.90,115.80 L298.50,114.59 L299.11,114.23 L299.70,112.80 L300.11,111.86 L300.10,110.24 L300.34,109.28 L300.80,108.00 L301.17,107.01 L300.89,105.70 L301.90,104.29 L301.80,103.00 L301.76,101.49 L302.09,100.05 L302.90,99.00 L303.60,97.84 L303.68,96.74 L304.23,95.32 L304.29,94.07 L304.50,92.70 L305.08,91.74 L305.46,90.34 L305.85,89.51 L306.34,88.14 L306.21,87.03 L306.90,86.40 L307.45,85.49 L307.64,83.72 L308.09,82.82 L308.16,81.06 L308.40,80.00 L308.50,78.80 L308.79,77.69 L309.35,77.02 L309.50,75.50 L310.40,76.00 L310.32,77.26 L310.63,78.06 L311.64,79.67 L312.06,80.75 L312.00,82.00 L311.96,83.15 L312.88,84.89 L313.63,85.73 L313.60,87.00 L313.92,87.79 L314.53,89.04 L314.49,90.01 L315.20,91.60 L315.12,92.83 L315.59,94.15 L315.93,95.13 L316.33,95.43 L317.23,96.70 L317.40,98.00 L317.80,98.81 L317.38,100.43 L318.16,101.59 L318.37,101.99 L318.47,103.64 L318.51,104.93 L318.52,106.05 L319.12,106.29 L318.68,107.95 L319.59,108.53 L319.50,110.00 L319.47,111.38 L319.49,112.68 L319.92,113.14 L319.96,114.78 L320.17,116.05 L320.05,117.33 L320.39,118.37 L320.77,119.35 L320.80,120.60 L320.87,121.95 L321.55,123.03 L321.39,123.68 L321.10,125.38 L321.86,126.33 L321.70,127.22 L322.45,128.51 L322.20,129.30 L322.59,130.23 L322.74,131.85 L322.99,132.77 L323.49,134.06 L323.70,134.80 L324.28,135.80 L323.85,136.99 L324.53,138.48 L324.90,139.60 L325.48,141.21 L325.09,142.42 L326.08,143.71 L326.16,144.44 L326.40,145.90 L327.27,147.35 L327.67,148.62 L327.91,149.05 L328.60,150.60 L329.65,152.07 L330.60,153.00 L332.20,154.30 L362.80,154.30 Z" fill="#fff" stroke="none"/>
<path d="M228.90,154.30 L254.60,154.30 L256.00,153.50 L257.10,153.12 L258.15,152.59 L259.00,151.60 L260.76,151.75 L262.00,151.30 L263.08,151.37 L264.70,151.10 L265.98,150.52 L267.20,149.50 L268.17,149.14 L269.30,147.89 L270.04,147.08 L271.30,146.70 L272.09,145.48 L272.87,144.73 L273.69,144.22 L274.50,143.40 L275.37,142.63 L275.72,141.51 L277.00,140.10 L277.77,138.76 L278.60,137.30 L279.32,136.51 L279.62,135.03 L280.30,134.00 L281.31,132.17 L281.50,131.10 L282.22,129.82 L282.70,128.30 L282.68,127.30 L283.66,126.49 L283.90,125.00 L284.30,124.60 L284.61,123.85 L285.23,122.23 L286.04,120.64 L286.34,119.99 L286.60,118.70 L286.93,117.97 L287.44,116.56 L288.06,115.76 L288.26,114.40 L289.00,113.40 L290.20,112.10 L290.98,113.10 L291.90,114.00 L293.10,115.80 L294.30,114.50 L295.19,115.26 L295.50,116.40 L296.99,116.01 L297.90,115.80 L298.50,114.59 L299.11,114.23 L299.70,112.80 L300.11,111.86 L300.10,110.24 L300.34,109.28 L300.80,108.00 L301.17,107.01 L300.89,105.70 L301.90,104.29 L301.80,103.00 L301.76,101.49 L302.09,100.05 L302.90,99.00 L303.60,97.84 L303.68,96.74 L304.23,95.32 L304.29,94.07 L304.50,92.70 L305.08,91.74 L305.46,90.34 L305.85,89.51 L306.34,88.14 L306.21,87.03 L306.90,86.40 L307.45,85.49 L307.64,83.72 L308.09,82.82 L308.16,81.06 L308.40,80.00 L308.50,78.80 L308.79,77.69 L309.35,77.02 L309.50,75.50 L310.40,76.00 L310.32,77.26 L310.63,78.06 L311.64,79.67 L312.06,80.75 L312.00,82.00 L311.96,83.15 L312.88,84.89 L313.63,85.73 L313.60,87.00 L313.92,87.79 L314.53,89.04 L314.49,90.01 L315.20,91.60 L315.12,92.83 L315.59,94.15 L315.93,95.13 L316.33,95.43 L317.23,96.70 L317.40,98.00 L317.80,98.81 L317.38,100.43 L318.16,101.59 L318.37,101.99 L318.47,103.64 L318.51,104.93 L318.52,106.05 L319.12,106.29 L318.68,107.95 L319.59,108.53 L319.50,110.00 L319.47,111.38 L319.49,112.68 L319.92,113.14 L319.96,114.78 L320.17,116.05 L320.05,117.33 L320.39,118.37 L320.77,119.35 L320.80,120.60 L320.87,121.95 L321.55,123.03 L321.39,123.68 L321.10,125.38 L321.86,126.33 L321.70,127.22 L322.45,128.51 L322.20,129.30 L322.59,130.23 L322.74,131.85 L322.99,132.77 L323.49,134.06 L323.70,134.80 L324.28,135.80 L323.85,136.99 L324.53,138.48 L324.90,139.60 L325.48,141.21 L325.09,142.42 L326.08,143.71 L326.16,144.44 L326.40,145.90 L327.27,147.35 L327.67,148.62 L327.91,149.05 L328.60,150.60 L329.65,152.07 L330.60,153.00 L332.20,154.30 L362.80,154.30" fill="none" stroke="#111" stroke-width="1.6" stroke-linejoin="round"/>
<path d="M228.90,154.30 L228.90,21.40 L362.80,21.40 L362.80,154.30" fill="none" stroke="#222" stroke-width="1.3"/>
<line x1="228.30" y1="154.30" x2="363.40" y2="154.30" stroke="#111" stroke-width="1.3" />
<line x1="296.20" y1="21.60" x2="296.20" y2="154.30" stroke="#3a3a3a" stroke-width="1.4" stroke-dasharray="2.8 3.15"/>
<text x="298.50" y="45.20" font-size="10.8" textLength="44.40" lengthAdjust="spacingAndGlyphs" fill="#1a1a1a" >pSTAT5+</text>
<line x1="296.20" y1="49.00" x2="338.20" y2="49.00" stroke="#222" stroke-width="1.3" />
<path d="M342.00,49 L336.20,46.9 L337.40,49 L336.20,51.1 Z" fill="#222"/>
<line x1="230.15" y1="154.30" x2="230.15" y2="157.50" stroke="#222" stroke-width="1.15" />
<line x1="240.80" y1="154.30" x2="240.80" y2="157.50" stroke="#222" stroke-width="1.15" />
<line x1="248.90" y1="154.30" x2="248.90" y2="157.50" stroke="#222" stroke-width="1.15" />
<line x1="257.00" y1="154.30" x2="257.00" y2="157.90" stroke="#222" stroke-width="1.15" />
<line x1="264.53" y1="154.30" x2="264.53" y2="156.90" stroke="#222" stroke-width="1.15" />
<line x1="268.93" y1="154.30" x2="268.93" y2="156.90" stroke="#222" stroke-width="1.15" />
<line x1="272.05" y1="154.30" x2="272.05" y2="156.90" stroke="#222" stroke-width="1.15" />
<line x1="274.47" y1="154.30" x2="274.47" y2="156.90" stroke="#222" stroke-width="1.15" />
<line x1="276.45" y1="154.30" x2="276.45" y2="156.90" stroke="#222" stroke-width="1.15" />
<line x1="278.13" y1="154.30" x2="278.13" y2="156.90" stroke="#222" stroke-width="1.15" />
<line x1="279.58" y1="154.30" x2="279.58" y2="156.90" stroke="#222" stroke-width="1.15" />
<line x1="280.86" y1="154.30" x2="280.86" y2="156.90" stroke="#222" stroke-width="1.15" />
<line x1="282.00" y1="154.30" x2="282.00" y2="157.90" stroke="#222" stroke-width="1.15" />
<line x1="290.10" y1="154.30" x2="290.10" y2="156.90" stroke="#222" stroke-width="1.15" />
<line x1="294.83" y1="154.30" x2="294.83" y2="156.90" stroke="#222" stroke-width="1.15" />
<line x1="298.20" y1="154.30" x2="298.20" y2="156.90" stroke="#222" stroke-width="1.15" />
<line x1="300.80" y1="154.30" x2="300.80" y2="156.90" stroke="#222" stroke-width="1.15" />
<line x1="302.93" y1="154.30" x2="302.93" y2="156.90" stroke="#222" stroke-width="1.15" />
<line x1="304.73" y1="154.30" x2="304.73" y2="156.90" stroke="#222" stroke-width="1.15" />
<line x1="306.29" y1="154.30" x2="306.29" y2="156.90" stroke="#222" stroke-width="1.15" />
<line x1="307.67" y1="154.30" x2="307.67" y2="156.90" stroke="#222" stroke-width="1.15" />
<line x1="308.90" y1="154.30" x2="308.90" y2="157.90" stroke="#222" stroke-width="1.15" />
<line x1="317.18" y1="154.30" x2="317.18" y2="156.90" stroke="#222" stroke-width="1.15" />
<line x1="322.02" y1="154.30" x2="322.02" y2="156.90" stroke="#222" stroke-width="1.15" />
<line x1="325.46" y1="154.30" x2="325.46" y2="156.90" stroke="#222" stroke-width="1.15" />
<line x1="328.12" y1="154.30" x2="328.12" y2="156.90" stroke="#222" stroke-width="1.15" />
<line x1="330.30" y1="154.30" x2="330.30" y2="156.90" stroke="#222" stroke-width="1.15" />
<line x1="332.14" y1="154.30" x2="332.14" y2="156.90" stroke="#222" stroke-width="1.15" />
<line x1="333.73" y1="154.30" x2="333.73" y2="156.90" stroke="#222" stroke-width="1.15" />
<line x1="335.14" y1="154.30" x2="335.14" y2="156.90" stroke="#222" stroke-width="1.15" />
<line x1="336.40" y1="154.30" x2="336.40" y2="157.90" stroke="#222" stroke-width="1.15" />
<line x1="344.62" y1="154.30" x2="344.62" y2="156.90" stroke="#222" stroke-width="1.15" />
<line x1="349.43" y1="154.30" x2="349.43" y2="156.90" stroke="#222" stroke-width="1.15" />
<line x1="352.84" y1="154.30" x2="352.84" y2="156.90" stroke="#222" stroke-width="1.15" />
<line x1="355.48" y1="154.30" x2="355.48" y2="156.90" stroke="#222" stroke-width="1.15" />
<line x1="357.64" y1="154.30" x2="357.64" y2="156.90" stroke="#222" stroke-width="1.15" />
<line x1="359.47" y1="154.30" x2="359.47" y2="156.90" stroke="#222" stroke-width="1.15" />
<line x1="361.05" y1="154.30" x2="361.05" y2="156.90" stroke="#222" stroke-width="1.15" />
<line x1="362.45" y1="154.30" x2="362.45" y2="156.90" stroke="#222" stroke-width="1.15" />
<text x="248.60" y="169.20" font-size="8.6" text-anchor="middle" fill="#1a1a1a" >0</text>
<text x="275.40" y="169.3" font-size="8.8" fill="#1a1a1a">10<tspan dy="-3.9" font-size="7.2">1</tspan></text>
<text x="303.40" y="169.3" font-size="8.8" fill="#1a1a1a">10<tspan dy="-3.9" font-size="7.2">2</tspan></text>
<text x="329.70" y="169.3" font-size="8.8" fill="#1a1a1a">10<tspan dy="-3.9" font-size="7.2">3</tspan></text>
<text x="295.85" y="15.40" font-size="11" font-weight="bold" text-anchor="middle" textLength="21.70" lengthAdjust="spacingAndGlyphs" fill="#1a1a1a" >IL15</text>
<path d="M373.60,106.45 L401.00,106.25 L401.52,105.45 L403.00,103.85 L404.40,101.25 L405.59,99.12 L405.40,97.85 L405.97,96.58 L406.20,94.75 L406.64,92.83 L407.20,91.85 L408.10,89.05 L408.66,87.60 L410.00,85.35 L411.20,83.95 L410.81,83.17 L412.20,81.35 L413.47,79.22 L413.99,78.59 L414.70,76.25 L416.62,74.58 L417.30,72.85 L417.83,71.26 L417.94,68.89 L419.00,67.65 L419.34,66.27 L420.70,64.25 L420.82,62.63 L421.22,60.84 L421.16,58.36 L422.86,57.17 L422.40,55.65 L421.82,54.04 L422.96,51.45 L422.71,49.93 L422.60,48.35 L422.58,45.76 L421.75,45.48 L423.04,42.85 L422.40,41.05 L422.87,42.21 L423.57,44.01 L424.19,46.10 L424.35,47.95 L424.20,48.75 L423.91,46.31 L423.92,44.84 L423.83,42.93 L424.60,41.95 L425.90,40.25 L426.39,38.69 L426.70,35.95 L427.20,35.23 L428.49,32.39 L428.40,31.65 L429.40,30.85 L430.50,29.05 L431.20,31.35 L431.90,32.45 L432.80,34.35 L433.36,36.29 L433.60,38.55 L434.50,37.85 L434.16,40.52 L434.64,41.82 L435.30,43.65 L435.98,46.08 L436.20,47.05 L436.80,48.49 L436.77,49.73 L437.93,52.68 L437.07,52.77 L437.45,54.88 L438.82,57.38 L438.50,58.35 L439.32,59.29 L439.52,62.02 L439.58,64.13 L438.92,64.45 L440.32,67.39 L440.20,68.35 L440.61,69.53 L440.60,71.76 L439.94,72.57 L440.31,73.75 L440.80,75.32 L440.53,76.78 L441.36,78.07 L441.20,80.35 L441.64,81.36 L440.63,84.03 L441.02,85.54 L442.14,86.97 L441.06,87.77 L441.08,90.04 L442.36,91.06 L441.90,92.35 L441.92,93.69 L442.62,95.51 L442.41,96.58 L441.85,98.04 L442.40,100.35 L443.29,102.19 L443.50,103.85 L445.80,105.65 L448.00,106.25 L507.40,106.45 Z" fill="#d6d6d6" stroke="none"/>
<path d="M373.60,106.45 L401.00,106.45 M448.00,106.45 L507.40,106.45" fill="none" stroke="#a6a6a6" stroke-width="1.3"/>
<path d="M401.00,106.25 L401.52,105.45 L403.00,103.85 L404.40,101.25 L405.59,99.12 L405.40,97.85 L405.97,96.58 L406.20,94.75 L406.64,92.83 L407.20,91.85 L408.10,89.05 L408.66,87.60 L410.00,85.35 L411.20,83.95 L410.81,83.17 L412.20,81.35 L413.47,79.22 L413.99,78.59 L414.70,76.25 L416.62,74.58 L417.30,72.85 L417.83,71.26 L417.94,68.89 L419.00,67.65 L419.34,66.27 L420.70,64.25 L420.82,62.63 L421.22,60.84 L421.16,58.36 L422.86,57.17 L422.40,55.65 L421.82,54.04 L422.96,51.45 L422.71,49.93 L422.60,48.35 L422.58,45.76 L421.75,45.48 L423.04,42.85 L422.40,41.05 L422.87,42.21 L423.57,44.01 L424.19,46.10 L424.35,47.95 L424.20,48.75 L423.91,46.31 L423.92,44.84 L423.83,42.93 L424.60,41.95 L425.90,40.25 L426.39,38.69 L426.70,35.95 L427.20,35.23 L428.49,32.39 L428.40,31.65 L429.40,30.85 L430.50,29.05 L431.20,31.35 L431.90,32.45 L432.80,34.35 L433.36,36.29 L433.60,38.55 L434.50,37.85 L434.16,40.52 L434.64,41.82 L435.30,43.65 L435.98,46.08 L436.20,47.05 L436.80,48.49 L436.77,49.73 L437.93,52.68 L437.07,52.77 L437.45,54.88 L438.82,57.38 L438.50,58.35 L439.32,59.29 L439.52,62.02 L439.58,64.13 L438.92,64.45 L440.32,67.39 L440.20,68.35 L440.61,69.53 L440.60,71.76 L439.94,72.57 L440.31,73.75 L440.80,75.32 L440.53,76.78 L441.36,78.07 L441.20,80.35 L441.64,81.36 L440.63,84.03 L441.02,85.54 L442.14,86.97 L441.06,87.77 L441.08,90.04 L442.36,91.06 L441.90,92.35 L441.92,93.69 L442.62,95.51 L442.41,96.58 L441.85,98.04 L442.40,100.35 L443.29,102.19 L443.50,103.85 L445.80,105.65 L448.00,106.25" fill="none" stroke="#7c7c7c" stroke-width="1.1" stroke-linejoin="round"/>
<path d="M373.60,122.10 L400.30,122.20 L401.01,121.57 L402.16,120.19 L403.40,119.30 L403.95,118.25 L405.43,117.47 L405.68,116.77 L406.68,116.30 L407.70,115.10 L408.39,114.83 L409.37,114.06 L410.80,113.00 L411.75,111.69 L412.38,110.71 L412.98,109.58 L414.00,108.80 L414.68,108.19 L416.05,107.08 L416.04,105.46 L417.20,104.60 L418.18,103.14 L418.64,102.29 L419.49,100.98 L419.96,100.22 L420.30,99.30 L420.68,97.79 L422.00,97.19 L422.40,96.10 L422.50,94.98 L423.53,93.73 L423.60,92.59 L423.63,92.10 L424.30,90.80 L424.83,89.43 L424.60,88.23 L425.42,87.50 L425.46,86.14 L426.00,85.30 L426.60,84.24 L427.28,82.87 L427.23,81.16 L428.00,80.30 L428.47,79.07 L428.71,77.61 L429.05,76.72 L429.34,76.06 L429.28,74.15 L429.91,73.42 L429.80,72.30 L430.42,70.95 L430.09,70.31 L430.54,68.57 L430.83,67.81 L430.78,66.60 L431.47,65.46 L431.80,64.30 L431.82,63.39 L432.80,62.43 L432.72,61.19 L433.13,60.13 L433.60,58.80 L433.91,57.99 L435.00,56.50 L435.68,55.10 L435.55,53.73 L435.80,52.30 L435.93,50.62 L436.42,49.55 L435.81,48.19 L436.20,47.30 L436.13,46.49 L436.50,45.10 L437.00,46.80 L437.40,45.80 L437.08,46.56 L437.78,47.78 L437.27,49.26 L437.80,50.30 L437.94,51.49 L438.12,52.28 L438.33,54.00 L437.66,54.63 L438.13,56.13 L438.20,57.30 L438.10,58.06 L438.32,59.17 L438.58,60.92 L438.28,61.77 L438.92,62.50 L439.09,64.29 L438.80,64.93 L439.31,66.12 L439.01,67.60 L439.20,68.30 L439.55,69.35 L439.17,70.55 L439.44,72.33 L439.87,73.47 L439.98,74.61 L439.40,75.52 L440.31,77.09 L439.77,77.83 L440.22,78.98 L440.20,80.30 L440.29,81.11 L440.26,82.70 L439.95,83.58 L440.86,85.35 L440.89,86.42 L440.84,87.85 L440.97,88.28 L440.81,89.69 L440.90,90.90 L440.80,92.30 L440.95,93.82 L441.14,94.36 L441.16,95.67 L441.66,96.68 L441.20,98.15 L441.14,99.24 L441.60,100.30 L442.31,101.65 L441.99,102.94 L442.50,104.30 L442.71,105.12 L442.52,106.25 L442.85,107.64 L443.03,108.63 L443.40,110.00 L443.33,111.23 L444.31,112.47 L444.36,113.69 L444.33,114.92 L444.86,115.96 L445.20,117.10 L446.10,118.24 L446.63,119.20 L447.60,120.60 L448.32,121.14 L449.43,121.74 L450.50,122.20 L507.40,122.10 Z" fill="#fff" stroke="none"/>
<path d="M373.60,122.10 L400.30,122.20 L401.01,121.57 L402.16,120.19 L403.40,119.30 L403.95,118.25 L405.43,117.47 L405.68,116.77 L406.68,116.30 L407.70,115.10 L408.39,114.83 L409.37,114.06 L410.80,113.00 L411.75,111.69 L412.38,110.71 L412.98,109.58 L414.00,108.80 L414.68,108.19 L416.05,107.08 L416.04,105.46 L417.20,104.60 L418.18,103.14 L418.64,102.29 L419.49,100.98 L419.96,100.22 L420.30,99.30 L420.68,97.79 L422.00,97.19 L422.40,96.10 L422.50,94.98 L423.53,93.73 L423.60,92.59 L423.63,92.10 L424.30,90.80 L424.83,89.43 L424.60,88.23 L425.42,87.50 L425.46,86.14 L426.00,85.30 L426.60,84.24 L427.28,82.87 L427.23,81.16 L428.00,80.30 L428.47,79.07 L428.71,77.61 L429.05,76.72 L429.34,76.06 L429.28,74.15 L429.91,73.42 L429.80,72.30 L430.42,70.95 L430.09,70.31 L430.54,68.57 L430.83,67.81 L430.78,66.60 L431.47,65.46 L431.80,64.30 L431.82,63.39 L432.80,62.43 L432.72,61.19 L433.13,60.13 L433.60,58.80 L433.91,57.99 L435.00,56.50 L435.68,55.10 L435.55,53.73 L435.80,52.30 L435.93,50.62 L436.42,49.55 L435.81,48.19 L436.20,47.30 L436.13,46.49 L436.50,45.10 L437.00,46.80 L437.40,45.80 L437.08,46.56 L437.78,47.78 L437.27,49.26 L437.80,50.30 L437.94,51.49 L438.12,52.28 L438.33,54.00 L437.66,54.63 L438.13,56.13 L438.20,57.30 L438.10,58.06 L438.32,59.17 L438.58,60.92 L438.28,61.77 L438.92,62.50 L439.09,64.29 L438.80,64.93 L439.31,66.12 L439.01,67.60 L439.20,68.30 L439.55,69.35 L439.17,70.55 L439.44,72.33 L439.87,73.47 L439.98,74.61 L439.40,75.52 L440.31,77.09 L439.77,77.83 L440.22,78.98 L440.20,80.30 L440.29,81.11 L440.26,82.70 L439.95,83.58 L440.86,85.35 L440.89,86.42 L440.84,87.85 L440.97,88.28 L440.81,89.69 L440.90,90.90 L440.80,92.30 L440.95,93.82 L441.14,94.36 L441.16,95.67 L441.66,96.68 L441.20,98.15 L441.14,99.24 L441.60,100.30 L442.31,101.65 L441.99,102.94 L442.50,104.30 L442.71,105.12 L442.52,106.25 L442.85,107.64 L443.03,108.63 L443.40,110.00 L443.33,111.23 L444.31,112.47 L444.36,113.69 L444.33,114.92 L444.86,115.96 L445.20,117.10 L446.10,118.24 L446.63,119.20 L447.60,120.60 L448.32,121.14 L449.43,121.74 L450.50,122.20 L507.40,122.10" fill="none" stroke="#111" stroke-width="1.6" stroke-linejoin="round"/>
<path d="M373.60,137.80 L399.20,137.70 L399.81,137.04 L401.63,136.41 L402.40,136.12 L403.40,135.60 L404.28,135.39 L405.37,134.54 L406.32,133.26 L407.70,133.00 L409.08,132.17 L409.41,131.35 L410.80,130.89 L411.90,129.90 L412.32,128.60 L413.86,128.01 L413.91,126.60 L415.00,125.70 L415.31,124.80 L415.98,123.89 L416.61,122.54 L416.97,121.68 L417.20,120.40 L417.85,119.32 L418.30,118.47 L418.83,116.88 L419.21,115.71 L419.30,115.10 L419.84,114.02 L419.90,113.20 L420.26,111.55 L420.76,110.80 L420.80,109.30 L421.17,107.94 L421.31,106.76 L421.83,105.36 L421.90,104.30 L422.12,103.13 L422.43,101.71 L423.11,100.96 L423.17,99.38 L423.20,98.04 L423.80,97.00 L423.80,95.79 L424.51,94.07 L425.14,93.00 L425.39,92.18 L425.40,90.60 L426.04,89.13 L425.79,88.57 L425.65,86.59 L426.37,85.80 L426.92,84.85 L426.81,83.85 L427.00,82.20 L427.24,81.00 L427.62,79.67 L427.56,78.64 L427.78,77.75 L428.30,76.15 L428.01,74.80 L428.60,73.70 L428.74,72.62 L429.13,71.78 L429.30,70.30 L429.96,69.15 L429.73,68.13 L430.48,66.73 L430.30,66.01 L430.22,64.42 L431.19,63.74 L431.00,62.30 L431.29,60.78 L431.92,60.14 L432.14,59.24 L432.48,57.56 L432.11,56.28 L432.70,55.30 L433.50,54.60 L434.50,56.30 L434.71,57.50 L434.62,58.41 L435.22,59.99 L435.17,61.54 L435.50,62.30 L435.77,63.03 L435.71,64.84 L435.75,65.90 L435.62,66.70 L436.52,68.09 L436.51,68.88 L436.50,70.30 L436.60,71.49 L436.49,72.72 L436.83,74.18 L436.97,74.79 L436.66,75.71 L437.33,76.80 L437.20,78.30 L436.93,79.15 L437.39,80.88 L437.56,82.00 L437.15,82.43 L437.87,83.85 L437.91,85.03 L437.80,86.30 L437.58,87.21 L437.59,88.91 L438.10,89.54 L438.05,90.70 L437.77,92.28 L438.32,93.46 L438.27,94.28 L438.40,95.30 L438.25,96.01 L438.94,97.87 L438.46,99.03 L438.98,99.62 L438.87,101.34 L438.85,102.45 L438.69,103.08 L439.00,104.30 L439.27,105.17 L438.98,106.89 L439.21,107.94 L439.07,108.51 L439.25,109.64 L439.87,110.86 L439.58,111.83 L439.60,113.30 L439.72,114.40 L439.69,115.31 L439.53,117.19 L439.83,117.87 L439.77,119.11 L439.90,120.08 L440.38,121.56 L440.01,123.09 L440.04,123.89 L440.50,125.30 L440.96,126.17 L440.77,128.00 L441.25,128.59 L441.01,130.30 L441.30,131.30 L441.49,133.15 L441.64,134.57 L442.20,135.60 L443.10,136.20 L444.00,137.30 L445.60,137.70 L507.40,137.80 Z" fill="#fff" stroke="none"/>
<path d="M373.60,137.80 L399.20,137.70 L399.81,137.04 L401.63,136.41 L402.40,136.12 L403.40,135.60 L404.28,135.39 L405.37,134.54 L406.32,133.26 L407.70,133.00 L409.08,132.17 L409.41,131.35 L410.80,130.89 L411.90,129.90 L412.32,128.60 L413.86,128.01 L413.91,126.60 L415.00,125.70 L415.31,124.80 L415.98,123.89 L416.61,122.54 L416.97,121.68 L417.20,120.40 L417.85,119.32 L418.30,118.47 L418.83,116.88 L419.21,115.71 L419.30,115.10 L419.84,114.02 L419.90,113.20 L420.26,111.55 L420.76,110.80 L420.80,109.30 L421.17,107.94 L421.31,106.76 L421.83,105.36 L421.90,104.30 L422.12,103.13 L422.43,101.71 L423.11,100.96 L423.17,99.38 L423.20,98.04 L423.80,97.00 L423.80,95.79 L424.51,94.07 L425.14,93.00 L425.39,92.18 L425.40,90.60 L426.04,89.13 L425.79,88.57 L425.65,86.59 L426.37,85.80 L426.92,84.85 L426.81,83.85 L427.00,82.20 L427.24,81.00 L427.62,79.67 L427.56,78.64 L427.78,77.75 L428.30,76.15 L428.01,74.80 L428.60,73.70 L428.74,72.62 L429.13,71.78 L429.30,70.30 L429.96,69.15 L429.73,68.13 L430.48,66.73 L430.30,66.01 L430.22,64.42 L431.19,63.74 L431.00,62.30 L431.29,60.78 L431.92,60.14 L432.14,59.24 L432.48,57.56 L432.11,56.28 L432.70,55.30 L433.50,54.60 L434.50,56.30 L434.71,57.50 L434.62,58.41 L435.22,59.99 L435.17,61.54 L435.50,62.30 L435.77,63.03 L435.71,64.84 L435.75,65.90 L435.62,66.70 L436.52,68.09 L436.51,68.88 L436.50,70.30 L436.60,71.49 L436.49,72.72 L436.83,74.18 L436.97,74.79 L436.66,75.71 L437.33,76.80 L437.20,78.30 L436.93,79.15 L437.39,80.88 L437.56,82.00 L437.15,82.43 L437.87,83.85 L437.91,85.03 L437.80,86.30 L437.58,87.21 L437.59,88.91 L438.10,89.54 L438.05,90.70 L437.77,92.28 L438.32,93.46 L438.27,94.28 L438.40,95.30 L438.25,96.01 L438.94,97.87 L438.46,99.03 L438.98,99.62 L438.87,101.34 L438.85,102.45 L438.69,103.08 L439.00,104.30 L439.27,105.17 L438.98,106.89 L439.21,107.94 L439.07,108.51 L439.25,109.64 L439.87,110.86 L439.58,111.83 L439.60,113.30 L439.72,114.40 L439.69,115.31 L439.53,117.19 L439.83,117.87 L439.77,119.11 L439.90,120.08 L440.38,121.56 L440.01,123.09 L440.04,123.89 L440.50,125.30 L440.96,126.17 L440.77,128.00 L441.25,128.59 L441.01,130.30 L441.30,131.30 L441.49,133.15 L441.64,134.57 L442.20,135.60 L443.10,136.20 L444.00,137.30 L445.60,137.70 L507.40,137.80" fill="none" stroke="#111" stroke-width="1.6" stroke-linejoin="round"/>
<path d="M373.60,154.30 L398.50,154.30 L399.80,152.80 L400.82,151.80 L402.12,151.25 L403.00,150.80 L404.43,150.21 L405.01,149.24 L406.20,148.80 L407.00,147.64 L407.94,146.66 L408.31,146.14 L409.00,145.20 L409.52,144.49 L410.35,143.44 L411.24,142.18 L411.90,141.40 L412.43,139.96 L412.88,139.58 L413.80,138.20 L414.24,137.21 L414.65,135.99 L415.60,134.80 L415.83,133.75 L416.12,132.31 L416.48,131.40 L417.00,130.60 L417.01,129.72 L417.50,128.36 L418.42,127.62 L418.40,126.30 L419.09,125.45 L418.77,123.75 L419.03,122.94 L419.80,121.60 L420.30,120.29 L420.42,119.39 L421.03,117.85 L421.20,116.90 L421.79,115.67 L421.88,114.41 L421.69,113.97 L422.53,112.69 L422.60,111.40 L422.57,109.91 L423.06,108.97 L423.56,108.05 L423.71,106.91 L424.50,106.00 L424.97,104.46 L425.51,103.56 L425.74,102.03 L425.90,101.00 L426.06,99.97 L426.20,98.15 L426.86,97.65 L426.59,95.79 L427.00,95.00 L427.52,93.90 L426.99,92.37 L427.25,91.66 L427.54,90.57 L428.00,89.00 L428.49,87.44 L428.71,86.54 L429.02,85.75 L428.87,83.90 L429.74,83.01 L429.60,81.90 L430.25,80.94 L430.35,79.93 L430.40,78.50 L431.00,77.20 L432.50,77.60 L433.50,76.80 L434.90,77.50 L435.15,78.86 L434.77,80.48 L435.30,81.70 L435.35,82.86 L435.91,83.65 L435.87,84.72 L435.93,86.55 L435.64,87.46 L436.39,88.69 L436.12,89.49 L435.79,90.73 L436.30,92.00 L436.32,92.83 L436.33,93.87 L436.79,95.45 L436.46,96.17 L436.81,97.45 L437.29,98.47 L436.82,100.05 L436.78,100.86 L437.05,102.18 L437.30,103.00 L437.45,104.35 L437.22,105.37 L437.72,106.30 L437.98,107.74 L437.51,108.37 L437.84,109.40 L437.68,110.58 L437.92,112.07 L438.30,113.00 L438.34,113.85 L438.32,115.37 L438.45,116.30 L438.27,117.36 L439.19,119.23 L438.47,120.40 L439.36,121.46 L438.67,122.59 L439.05,123.52 L439.20,125.00 L439.34,125.67 L439.78,127.35 L439.61,128.73 L439.74,129.22 L439.47,130.23 L439.37,131.91 L440.21,132.59 L439.72,134.01 L440.10,135.00 L440.51,136.53 L440.00,137.54 L440.70,138.65 L440.34,139.29 L440.89,140.55 L440.58,141.90 L440.80,143.00 L440.88,144.50 L440.97,144.99 L441.46,146.72 L441.89,147.99 L441.80,149.00 L442.73,150.60 L442.93,151.40 L443.50,152.60 L444.19,153.27 L445.50,154.30 L507.40,154.30 Z" fill="#fff" stroke="none"/>
<path d="M373.60,154.30 L398.50,154.30 L399.80,152.80 L400.82,151.80 L402.12,151.25 L403.00,150.80 L404.43,150.21 L405.01,149.24 L406.20,148.80 L407.00,147.64 L407.94,146.66 L408.31,146.14 L409.00,145.20 L409.52,144.49 L410.35,143.44 L411.24,142.18 L411.90,141.40 L412.43,139.96 L412.88,139.58 L413.80,138.20 L414.24,137.21 L414.65,135.99 L415.60,134.80 L415.83,133.75 L416.12,132.31 L416.48,131.40 L417.00,130.60 L417.01,129.72 L417.50,128.36 L418.42,127.62 L418.40,126.30 L419.09,125.45 L418.77,123.75 L419.03,122.94 L419.80,121.60 L420.30,120.29 L420.42,119.39 L421.03,117.85 L421.20,116.90 L421.79,115.67 L421.88,114.41 L421.69,113.97 L422.53,112.69 L422.60,111.40 L422.57,109.91 L423.06,108.97 L423.56,108.05 L423.71,106.91 L424.50,106.00 L424.97,104.46 L425.51,103.56 L425.74,102.03 L425.90,101.00 L426.06,99.97 L426.20,98.15 L426.86,97.65 L426.59,95.79 L427.00,95.00 L427.52,93.90 L426.99,92.37 L427.25,91.66 L427.54,90.57 L428.00,89.00 L428.49,87.44 L428.71,86.54 L429.02,85.75 L428.87,83.90 L429.74,83.01 L429.60,81.90 L430.25,80.94 L430.35,79.93 L430.40,78.50 L431.00,77.20 L432.50,77.60 L433.50,76.80 L434.90,77.50 L435.15,78.86 L434.77,80.48 L435.30,81.70 L435.35,82.86 L435.91,83.65 L435.87,84.72 L435.93,86.55 L435.64,87.46 L436.39,88.69 L436.12,89.49 L435.79,90.73 L436.30,92.00 L436.32,92.83 L436.33,93.87 L436.79,95.45 L436.46,96.17 L436.81,97.45 L437.29,98.47 L436.82,100.05 L436.78,100.86 L437.05,102.18 L437.30,103.00 L437.45,104.35 L437.22,105.37 L437.72,106.30 L437.98,107.74 L437.51,108.37 L437.84,109.40 L437.68,110.58 L437.92,112.07 L438.30,113.00 L438.34,113.85 L438.32,115.37 L438.45,116.30 L438.27,117.36 L439.19,119.23 L438.47,120.40 L439.36,121.46 L438.67,122.59 L439.05,123.52 L439.20,125.00 L439.34,125.67 L439.78,127.35 L439.61,128.73 L439.74,129.22 L439.47,130.23 L439.37,131.91 L440.21,132.59 L439.72,134.01 L440.10,135.00 L440.51,136.53 L440.00,137.54 L440.70,138.65 L440.34,139.29 L440.89,140.55 L440.58,141.90 L440.80,143.00 L440.88,144.50 L440.97,144.99 L441.46,146.72 L441.89,147.99 L441.80,149.00 L442.73,150.60 L442.93,151.40 L443.50,152.60 L444.19,153.27 L445.50,154.30 L507.40,154.30" fill="none" stroke="#111" stroke-width="1.6" stroke-linejoin="round"/>
<path d="M373.60,154.30 L373.60,21.40 L507.40,21.40 L507.40,154.30" fill="none" stroke="#222" stroke-width="1.3"/>
<line x1="373.00" y1="154.30" x2="508.00" y2="154.30" stroke="#111" stroke-width="1.3" />
<line x1="440.90" y1="21.60" x2="440.90" y2="154.30" stroke="#3a3a3a" stroke-width="1.4" stroke-dasharray="2.8 3.15"/>
<text x="443.20" y="45.20" font-size="10.8" textLength="44.40" lengthAdjust="spacingAndGlyphs" fill="#1a1a1a" >pSTAT5+</text>
<line x1="440.90" y1="49.00" x2="482.90" y2="49.00" stroke="#222" stroke-width="1.3" />
<path d="M486.70,49 L480.90,46.9 L482.10,49 L480.90,51.1 Z" fill="#222"/>
<line x1="374.85" y1="154.30" x2="374.85" y2="157.50" stroke="#222" stroke-width="1.15" />
<line x1="385.50" y1="154.30" x2="385.50" y2="157.50" stroke="#222" stroke-width="1.15" />
<line x1="393.60" y1="154.30" x2="393.60" y2="157.50" stroke="#222" stroke-width="1.15" />
<line x1="401.70" y1="154.30" x2="401.70" y2="157.90" stroke="#222" stroke-width="1.15" />
<line x1="409.23" y1="154.30" x2="409.23" y2="156.90" stroke="#222" stroke-width="1.15" />
<line x1="413.63" y1="154.30" x2="413.63" y2="156.90" stroke="#222" stroke-width="1.15" />
<line x1="416.75" y1="154.30" x2="416.75" y2="156.90" stroke="#222" stroke-width="1.15" />
<line x1="419.17" y1="154.30" x2="419.17" y2="156.90" stroke="#222" stroke-width="1.15" />
<line x1="421.15" y1="154.30" x2="421.15" y2="156.90" stroke="#222" stroke-width="1.15" />
<line x1="422.83" y1="154.30" x2="422.83" y2="156.90" stroke="#222" stroke-width="1.15" />
<line x1="424.28" y1="154.30" x2="424.28" y2="156.90" stroke="#222" stroke-width="1.15" />
<line x1="425.56" y1="154.30" x2="425.56" y2="156.90" stroke="#222" stroke-width="1.15" />
<line x1="426.70" y1="154.30" x2="426.70" y2="157.90" stroke="#222" stroke-width="1.15" />
<line x1="434.80" y1="154.30" x2="434.80" y2="156.90" stroke="#222" stroke-width="1.15" />
<line x1="439.53" y1="154.30" x2="439.53" y2="156.90" stroke="#222" stroke-width="1.15" />
<line x1="442.90" y1="154.30" x2="442.90" y2="156.90" stroke="#222" stroke-width="1.15" />
<line x1="445.50" y1="154.30" x2="445.50" y2="156.90" stroke="#222" stroke-width="1.15" />
<line x1="447.63" y1="154.30" x2="447.63" y2="156.90" stroke="#222" stroke-width="1.15" />
<line x1="449.43" y1="154.30" x2="449.43" y2="156.90" stroke="#222" stroke-width="1.15" />
<line x1="450.99" y1="154.30" x2="450.99" y2="156.90" stroke="#222" stroke-width="1.15" />
<line x1="452.37" y1="154.30" x2="452.37" y2="156.90" stroke="#222" stroke-width="1.15" />
<line x1="453.60" y1="154.30" x2="453.60" y2="157.90" stroke="#222" stroke-width="1.15" />
<line x1="461.88" y1="154.30" x2="461.88" y2="156.90" stroke="#222" stroke-width="1.15" />
<line x1="466.72" y1="154.30" x2="466.72" y2="156.90" stroke="#222" stroke-width="1.15" />
<line x1="470.16" y1="154.30" x2="470.16" y2="156.90" stroke="#222" stroke-width="1.15" />
<line x1="472.82" y1="154.30" x2="472.82" y2="156.90" stroke="#222" stroke-width="1.15" />
<line x1="475.00" y1="154.30" x2="475.00" y2="156.90" stroke="#222" stroke-width="1.15" />
<line x1="476.84" y1="154.30" x2="476.84" y2="156.90" stroke="#222" stroke-width="1.15" />
<line x1="478.43" y1="154.30" x2="478.43" y2="156.90" stroke="#222" stroke-width="1.15" />
<line x1="479.84" y1="154.30" x2="479.84" y2="156.90" stroke="#222" stroke-width="1.15" />
<line x1="481.10" y1="154.30" x2="481.10" y2="157.90" stroke="#222" stroke-width="1.15" />
<line x1="489.32" y1="154.30" x2="489.32" y2="156.90" stroke="#222" stroke-width="1.15" />
<line x1="494.13" y1="154.30" x2="494.13" y2="156.90" stroke="#222" stroke-width="1.15" />
<line x1="497.54" y1="154.30" x2="497.54" y2="156.90" stroke="#222" stroke-width="1.15" />
<line x1="500.18" y1="154.30" x2="500.18" y2="156.90" stroke="#222" stroke-width="1.15" />
<line x1="502.34" y1="154.30" x2="502.34" y2="156.90" stroke="#222" stroke-width="1.15" />
<line x1="504.17" y1="154.30" x2="504.17" y2="156.90" stroke="#222" stroke-width="1.15" />
<line x1="505.75" y1="154.30" x2="505.75" y2="156.90" stroke="#222" stroke-width="1.15" />
<line x1="507.15" y1="154.30" x2="507.15" y2="156.90" stroke="#222" stroke-width="1.15" />
<text x="393.30" y="169.20" font-size="8.6" text-anchor="middle" fill="#1a1a1a" >0</text>
<text x="420.10" y="169.3" font-size="8.8" fill="#1a1a1a">10<tspan dy="-3.9" font-size="7.2">1</tspan></text>
<text x="448.10" y="169.3" font-size="8.8" fill="#1a1a1a">10<tspan dy="-3.9" font-size="7.2">2</tspan></text>
<text x="474.40" y="169.3" font-size="8.8" fill="#1a1a1a">10<tspan dy="-3.9" font-size="7.2">3</tspan></text>
<text x="440.50" y="15.40" font-size="11" font-weight="bold" text-anchor="middle" textLength="62.00" lengthAdjust="spacingAndGlyphs" fill="#1a1a1a" >Anti-IL15R<tspan font-weight="normal" font-family="Liberation Serif" font-size="12">α</tspan></text>
<text x="73.40" y="107.30" font-size="11" text-anchor="end" fill="#1a1a1a" >isotype</text>
<text x="73.40" y="123.10" font-size="11" text-anchor="end" fill="#1a1a1a" >T alone</text>
<text x="73.40" y="138.90" font-size="11" text-anchor="end" fill="#1a1a1a" >T (+ moDC)</text>
<text x="73.40" y="155.10" font-size="11" text-anchor="end" fill="#1a1a1a" >T (+ LC)</text>
<line x1="81.50" y1="177.60" x2="269.00" y2="177.60" stroke="#222" stroke-width="1.4" />
<line x1="321.00" y1="177.60" x2="494.00" y2="177.60" stroke="#222" stroke-width="1.4" />
<path d="M499.6,177.6 L489.8,174.2 L492.6,177.6 L489.8,181.0 Z" fill="#222"/>
<text x="272.30" y="182.40" font-size="10.6" textLength="44.60" lengthAdjust="spacingAndGlyphs" fill="#1a1a1a" >pSTAT5</text>
<text x="7.60" y="196.00" font-size="13.5" font-weight="bold" fill="#1a1a1a" >B</text>
<line x1="45.00" y1="214.10" x2="45.00" y2="344.40" stroke="#1a1a1a" stroke-width="1.3" />
<line x1="41.20" y1="214.75" x2="45.00" y2="214.75" stroke="#1a1a1a" stroke-width="1.3" />
<text x="37.80" y="217.85" font-size="9.2" font-weight="bold" text-anchor="end" textLength="13.20" lengthAdjust="spacingAndGlyphs" fill="#1a1a1a" >100</text>
<line x1="41.20" y1="241.00" x2="45.00" y2="241.00" stroke="#1a1a1a" stroke-width="1.3" />
<text x="37.80" y="244.10" font-size="9.2" font-weight="bold" text-anchor="end" textLength="8.80" lengthAdjust="spacingAndGlyphs" fill="#1a1a1a" >80</text>
<line x1="41.20" y1="266.90" x2="45.00" y2="266.90" stroke="#1a1a1a" stroke-width="1.3" />
<text x="37.80" y="270.00" font-size="9.2" font-weight="bold" text-anchor="end" textLength="8.80" lengthAdjust="spacingAndGlyphs" fill="#1a1a1a" >60</text>
<line x1="41.20" y1="292.60" x2="45.00" y2="292.60" stroke="#1a1a1a" stroke-width="1.3" />
<text x="37.80" y="295.70" font-size="9.2" font-weight="bold" text-anchor="end" textLength="8.80" lengthAdjust="spacingAndGlyphs" fill="#1a1a1a" >40</text>
<line x1="41.20" y1="318.50" x2="45.00" y2="318.50" stroke="#1a1a1a" stroke-width="1.3" />
<text x="37.80" y="321.60" font-size="9.2" font-weight="bold" text-anchor="end" textLength="8.80" lengthAdjust="spacingAndGlyphs" fill="#1a1a1a" >20</text>
<line x1="41.20" y1="344.40" x2="45.00" y2="344.40" stroke="#1a1a1a" stroke-width="1.3" />
<text x="37.80" y="347.50" font-size="9.2" font-weight="bold" text-anchor="end" textLength="4.40" lengthAdjust="spacingAndGlyphs" fill="#1a1a1a" >0</text>
<line x1="41.20" y1="344.40" x2="167.50" y2="344.40" stroke="#1a1a1a" stroke-width="1.3" />
<rect x="53.50" y="273.50" width="39.00" height="70.90" fill="#fff" stroke="#1a1a1a" stroke-width="1.3"/>
<line x1="72.90" y1="273.50" x2="72.90" y2="262.50" stroke="#1a1a1a" stroke-width="1.3" />
<line x1="62.80" y1="262.50" x2="82.80" y2="262.50" stroke="#1a1a1a" stroke-width="1.3" />
<line x1="133.00" y1="335.60" x2="133.00" y2="334.40" stroke="#1a1a1a" stroke-width="1.3" />
<line x1="122.50" y1="334.40" x2="143.10" y2="334.40" stroke="#1a1a1a" stroke-width="1.3" />
<rect x="112.30" y="335.60" width="41.00" height="8.80" fill="url(#hatch)" stroke="#1a1a1a" stroke-width="1.3"/>
<line x1="75.50" y1="344.40" x2="75.50" y2="348.00" stroke="#1a1a1a" stroke-width="1.2" />
<line x1="132.20" y1="344.40" x2="132.20" y2="348.00" stroke="#1a1a1a" stroke-width="1.2" />
<text x="74.80" y="361.20" font-size="10.4" font-weight="bold" text-anchor="middle" textLength="12.00" lengthAdjust="spacingAndGlyphs" fill="#1a1a1a" >LC</text>
<text x="131.60" y="361.40" font-size="10.4" font-weight="bold" text-anchor="middle" textLength="28.00" lengthAdjust="spacingAndGlyphs" fill="#1a1a1a" >moDC</text>
<text x="86.90" y="242.70" font-size="10.0" font-weight="bold" textLength="34.30" lengthAdjust="spacingAndGlyphs" fill="#1a1a1a" >p = 0.03</text>
<text transform="translate(19.6,332) rotate(-90)" font-size="10.6" font-weight="bold" fill="#1a1a1a" textLength="106.5" lengthAdjust="spacing">% pSTAT5<tspan dy="-5.2" font-size="9">+</tspan><tspan dy="5.2"> T cells</tspan></text>
<text x="178.00" y="195.00" font-size="13.5" font-weight="bold" fill="#1a1a1a" >C</text>
<line x1="211.90" y1="214.60" x2="211.90" y2="344.75" stroke="#1a1a1a" stroke-width="1.3" />
<line x1="207.60" y1="215.25" x2="211.90" y2="215.25" stroke="#1a1a1a" stroke-width="1.3" />
<text x="205.80" y="218.35" font-size="9.2" font-weight="bold" text-anchor="end" textLength="8.80" lengthAdjust="spacingAndGlyphs" fill="#1a1a1a" >60</text>
<line x1="207.60" y1="247.50" x2="211.90" y2="247.50" stroke="#1a1a1a" stroke-width="1.3" />
<text x="205.80" y="250.60" font-size="9.2" font-weight="bold" text-anchor="end" textLength="8.80" lengthAdjust="spacingAndGlyphs" fill="#1a1a1a" >30</text>
<line x1="207.60" y1="279.75" x2="211.90" y2="279.75" stroke="#1a1a1a" stroke-width="1.3" />
<text x="205.80" y="282.85" font-size="9.2" font-weight="bold" text-anchor="end" textLength="4.40" lengthAdjust="spacingAndGlyphs" fill="#1a1a1a" >0</text>
<line x1="207.60" y1="312.25" x2="211.90" y2="312.25" stroke="#1a1a1a" stroke-width="1.3" />
<text x="205.80" y="315.35" font-size="9.2" font-weight="bold" text-anchor="end" textLength="11.43" lengthAdjust="spacingAndGlyphs" fill="#1a1a1a" >-30</text>
<line x1="207.60" y1="344.75" x2="211.90" y2="344.75" stroke="#1a1a1a" stroke-width="1.3" />
<text x="205.80" y="347.85" font-size="9.2" font-weight="bold" text-anchor="end" textLength="11.43" lengthAdjust="spacingAndGlyphs" fill="#1a1a1a" >-60</text>
<line x1="208.80" y1="231.40" x2="211.90" y2="231.40" stroke="#1a1a1a" stroke-width="1.2" />
<line x1="208.80" y1="263.60" x2="211.90" y2="263.60" stroke="#1a1a1a" stroke-width="1.2" />
<line x1="208.80" y1="296.00" x2="211.90" y2="296.00" stroke="#1a1a1a" stroke-width="1.2" />
<line x1="208.80" y1="328.50" x2="211.90" y2="328.50" stroke="#1a1a1a" stroke-width="1.2" />
<line x1="211.90" y1="279.75" x2="341.30" y2="279.75" stroke="#1a1a1a" stroke-width="1.3" />
<rect x="217.30" y="273.10" width="23.70" height="6.65" fill="#fff" stroke="#1a1a1a" stroke-width="1.3"/>
<line x1="229.10" y1="273.10" x2="229.10" y2="271.50" stroke="#1a1a1a" stroke-width="1.3" />
<line x1="223.50" y1="271.50" x2="234.80" y2="271.50" stroke="#1a1a1a" stroke-width="1.3" />
<rect x="249.40" y="240.40" width="23.00" height="39.35" fill="url(#hatch)" stroke="#1a1a1a" stroke-width="1.3"/>
<rect x="280.60" y="279.75" width="23.50" height="38.75" fill="#fff" stroke="#1a1a1a" stroke-width="1.3"/>
<line x1="292.40" y1="318.50" x2="292.40" y2="320.20" stroke="#1a1a1a" stroke-width="1.3" />
<line x1="286.90" y1="320.20" x2="298.10" y2="320.20" stroke="#1a1a1a" stroke-width="1.3" />
<rect x="312.30" y="279.75" width="23.30" height="6.55" fill="url(#hatch)" stroke="#1a1a1a" stroke-width="1.3"/>
<text x="229.40" y="293.50" font-size="10.4" font-weight="bold" text-anchor="middle" textLength="11.70" lengthAdjust="spacingAndGlyphs" fill="#1a1a1a" >LC</text>
<text x="260.10" y="293.50" font-size="10.4" font-weight="bold" text-anchor="middle" textLength="27.70" lengthAdjust="spacingAndGlyphs" fill="#1a1a1a" >moDC</text>
<text x="292.80" y="275.50" font-size="10.4" font-weight="bold" text-anchor="middle" textLength="11.80" lengthAdjust="spacingAndGlyphs" fill="#1a1a1a" >LC</text>
<text x="323.30" y="275.70" font-size="10.4" font-weight="bold" text-anchor="middle" textLength="27.80" lengthAdjust="spacingAndGlyphs" fill="#1a1a1a" >moDC</text>
<text x="243.80" y="218.30" font-size="11.0" font-weight="bold" text-anchor="middle" textLength="21.30" lengthAdjust="spacingAndGlyphs" fill="#1a1a1a" >IL15</text>
<text x="224.75" y="229.60" font-size="9.8" font-weight="bold" textLength="39.20" lengthAdjust="spacingAndGlyphs" fill="#1a1a1a" >p = 0.034</text>
<text x="289.40" y="338.60" font-size="9.8" font-weight="bold" textLength="39.30" lengthAdjust="spacingAndGlyphs" fill="#1a1a1a" >p = 0.023</text>
<text x="276.90" y="352.00" font-size="11.0" font-weight="bold" textLength="61.80" lengthAdjust="spacingAndGlyphs" fill="#1a1a1a" >Anti-IL15R<tspan font-weight="normal" font-family="Liberation Serif" font-size="12">α</tspan></text>
<text transform="translate(188.2,348) rotate(-90)" font-size="10.1" font-weight="bold" fill="#1a1a1a" textLength="140.5" lengthAdjust="spacing">Change in % pSTAT5<tspan dy="-4.8" font-size="9.4">+</tspan><tspan dy="4.8">T cells</tspan></text>
<text x="350.40" y="195.00" font-size="13.5" font-weight="bold" fill="#1a1a1a" >D</text>
<line x1="387.20" y1="215.60" x2="387.20" y2="345.00" stroke="#1a1a1a" stroke-width="1.3" />
<line x1="383.10" y1="216.25" x2="387.20" y2="216.25" stroke="#1a1a1a" stroke-width="1.3" />
<text x="381.00" y="219.35" font-size="9.2" font-weight="bold" text-anchor="end" textLength="8.80" lengthAdjust="spacingAndGlyphs" fill="#1a1a1a" >80</text>
<line x1="383.10" y1="248.10" x2="387.20" y2="248.10" stroke="#1a1a1a" stroke-width="1.3" />
<text x="381.00" y="251.20" font-size="9.2" font-weight="bold" text-anchor="end" textLength="8.80" lengthAdjust="spacingAndGlyphs" fill="#1a1a1a" >60</text>
<line x1="383.10" y1="280.60" x2="387.20" y2="280.60" stroke="#1a1a1a" stroke-width="1.3" />
<text x="381.00" y="283.70" font-size="9.2" font-weight="bold" text-anchor="end" textLength="8.80" lengthAdjust="spacingAndGlyphs" fill="#1a1a1a" >40</text>
<line x1="383.10" y1="312.60" x2="387.20" y2="312.60" stroke="#1a1a1a" stroke-width="1.3" />
<text x="381.00" y="315.70" font-size="9.2" font-weight="bold" text-anchor="end" textLength="8.80" lengthAdjust="spacingAndGlyphs" fill="#1a1a1a" >20</text>
<line x1="383.10" y1="345.00" x2="387.20" y2="345.00" stroke="#1a1a1a" stroke-width="1.3" />
<text x="381.00" y="348.10" font-size="9.2" font-weight="bold" text-anchor="end" textLength="4.40" lengthAdjust="spacingAndGlyphs" fill="#1a1a1a" >0</text>
<line x1="383.10" y1="345.00" x2="519.60" y2="345.00" stroke="#1a1a1a" stroke-width="1.3" />
<rect x="393.20" y="334.20" width="22.30" height="10.80" fill="url(#checker)" stroke="#1a1a1a" stroke-width="1.3"/>
<line x1="404.40" y1="334.20" x2="404.40" y2="330.70" stroke="#1a1a1a" stroke-width="1.3" />
<line x1="398.60" y1="330.70" x2="410.00" y2="330.70" stroke="#1a1a1a" stroke-width="1.3" />
<rect x="425.20" y="337.20" width="22.40" height="7.80" fill="#fff" stroke="#1a1a1a" stroke-width="1.3"/>
<rect x="426.7" y="338.7" width="19.4" height="4.9" fill="#d8d8d8"/>
<line x1="436.50" y1="337.20" x2="436.50" y2="335.40" stroke="#1a1a1a" stroke-width="1.3" />
<line x1="431.00" y1="335.40" x2="442.50" y2="335.40" stroke="#1a1a1a" stroke-width="1.3" />
<rect x="458.20" y="334.00" width="21.80" height="11.00" fill="#8a8a8a" stroke="#1a1a1a" stroke-width="1.3"/>
<line x1="469.00" y1="334.00" x2="469.00" y2="329.70" stroke="#1a1a1a" stroke-width="1.3" />
<line x1="463.50" y1="329.70" x2="474.40" y2="329.70" stroke="#1a1a1a" stroke-width="1.3" />
<rect x="490.40" y="295.30" width="22.20" height="49.70" fill="#fff" stroke="#1a1a1a" stroke-width="1.3"/>
<line x1="501.60" y1="295.30" x2="501.60" y2="285.20" stroke="#1a1a1a" stroke-width="1.3" />
<line x1="496.20" y1="285.20" x2="507.30" y2="285.20" stroke="#1a1a1a" stroke-width="1.3" />
<line x1="404.00" y1="345.00" x2="404.00" y2="348.80" stroke="#1a1a1a" stroke-width="1.2" />
<line x1="435.60" y1="345.00" x2="435.60" y2="348.80" stroke="#1a1a1a" stroke-width="1.2" />
<line x1="468.80" y1="345.00" x2="468.80" y2="348.80" stroke="#1a1a1a" stroke-width="1.2" />
<line x1="500.80" y1="345.00" x2="500.80" y2="348.80" stroke="#1a1a1a" stroke-width="1.2" />
<text x="403.40" y="361.20" font-size="10.0" font-weight="bold" text-anchor="middle" textLength="30.60" lengthAdjust="spacingAndGlyphs" fill="#1a1a1a" >T Cells</text>
<text x="403.60" y="373.35" font-size="10.0" font-weight="bold" text-anchor="middle" textLength="26.60" lengthAdjust="spacingAndGlyphs" fill="#1a1a1a" >Alone</text>
<text x="436.20" y="361.20" font-size="10.0" font-weight="bold" text-anchor="middle" textLength="18.70" lengthAdjust="spacingAndGlyphs" fill="#1a1a1a" >50%</text>
<text x="436.20" y="373.35" font-size="10.0" font-weight="bold" text-anchor="middle" textLength="22.50" lengthAdjust="spacingAndGlyphs" fill="#1a1a1a" >Supe</text>
<text x="468.40" y="361.60" font-size="10.0" font-weight="bold" text-anchor="middle" textLength="24.30" lengthAdjust="spacingAndGlyphs" fill="#1a1a1a" >100%</text>
<text x="468.40" y="373.35" font-size="10.0" font-weight="bold" text-anchor="middle" textLength="23.10" lengthAdjust="spacingAndGlyphs" fill="#1a1a1a" >Supe</text>
<text x="500.80" y="361.20" font-size="10.0" font-weight="bold" text-anchor="middle" textLength="17.90" lengthAdjust="spacingAndGlyphs" fill="#1a1a1a" >LCs</text>
<path d="M403.6,322.5 L403.6,318.1 L469.0,318.1 L469.0,322.5 M435.5,318.1 L435.5,322.3" fill="none" stroke="#222" stroke-width="1.3"/>
<text x="435.20" y="314.00" font-size="13" font-weight="bold" text-anchor="middle" textLength="14.20" lengthAdjust="spacingAndGlyphs" fill="#1a1a1a" >ns</text>
<path d="M435.3,297.8 L435.3,244.75 L500.1,244.75 L500.1,266.9" fill="none" stroke="#222" stroke-width="1.3"/>
<text x="449.00" y="237.10" font-size="10.2" font-weight="bold" textLength="36.20" lengthAdjust="spacingAndGlyphs" fill="#1a1a1a" >p &lt; 0.02</text>
<text transform="translate(364.4,333.8) rotate(-90)" font-size="10.6" font-weight="bold" fill="#1a1a1a" textLength="108.2" lengthAdjust="spacing">% pSTAT5<tspan dy="-5.2" font-size="9">+</tspan><tspan dy="5.2"> T cells</tspan></text>
</svg>
</body></html>
